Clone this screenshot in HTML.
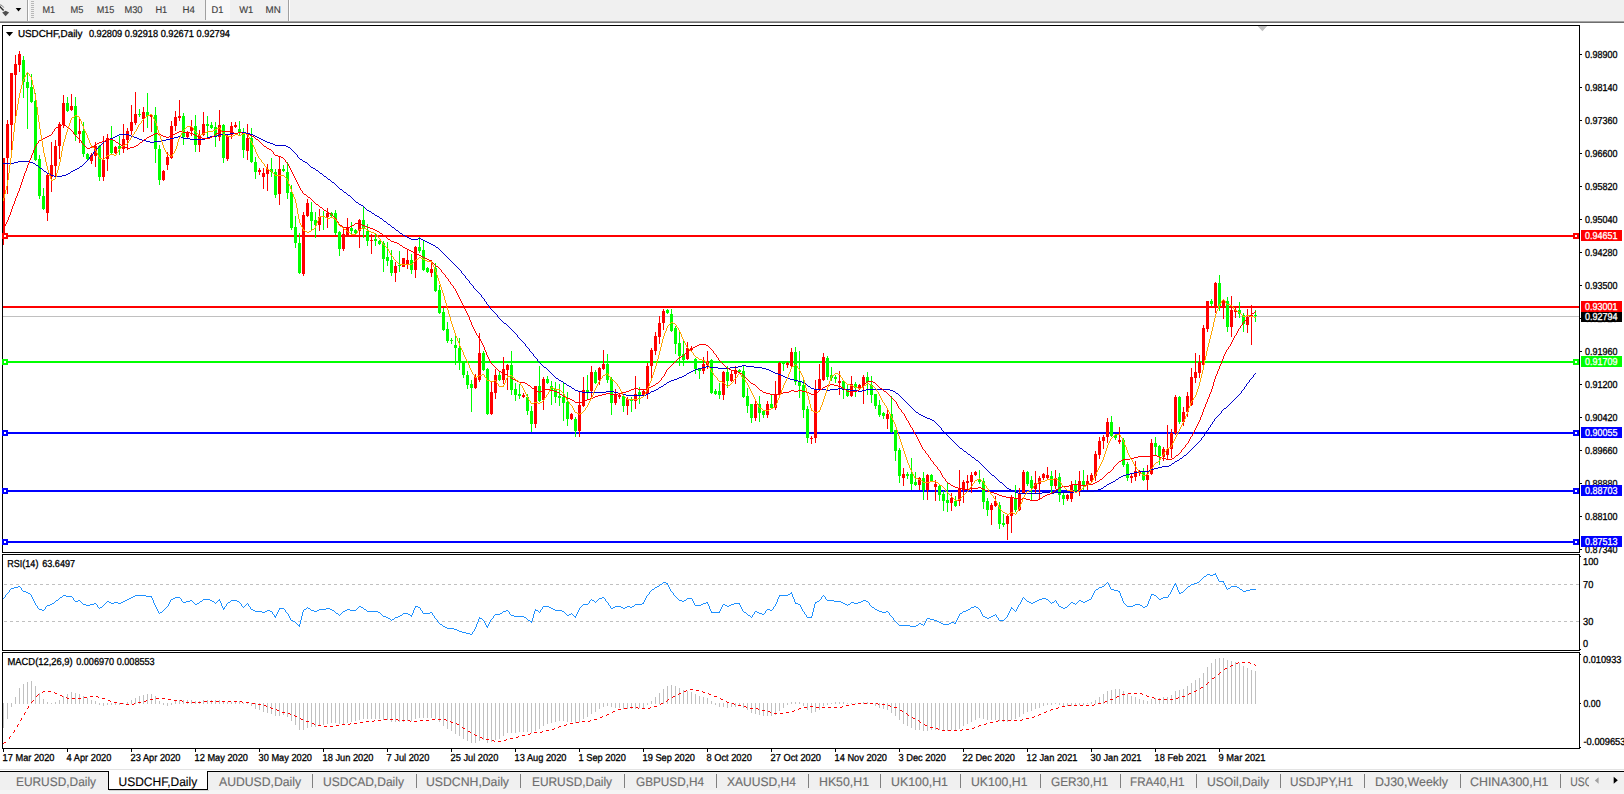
<!DOCTYPE html>
<html lang="en"><head><meta charset="utf-8"><title>USDCHF,Daily</title>
<style>
html,body{margin:0;padding:0;background:#fff;overflow:hidden}
svg{display:block;font-family:"Liberation Sans", Arial, sans-serif}
text{white-space:pre;text-rendering:geometricPrecision}
</style></head><body>
<svg width="1624" height="794" viewBox="0 0 1624 794">
<rect x="0" y="0" width="1624" height="794" fill="#ffffff"/>
<g shape-rendering="crispEdges">
<rect x="0" y="0" width="1624" height="21" fill="#f0f0f0"/>
<rect x="0" y="21" width="1624" height="1" fill="#a3a3a3"/>
<rect x="0" y="22" width="1624" height="1" fill="#6e6e6e"/>
<rect x="0" y="23" width="1624" height="1" fill="#ffffff"/>
<rect x="27" y="0" width="1" height="21" fill="#a0a0a0"/>
<rect x="28" y="0" width="1" height="21" fill="#ffffff"/>
<rect x="31" y="1" width="3" height="1" fill="#b8b8b8"/>
<rect x="31" y="3" width="3" height="1" fill="#b8b8b8"/>
<rect x="31" y="5" width="3" height="1" fill="#b8b8b8"/>
<rect x="31" y="7" width="3" height="1" fill="#b8b8b8"/>
<rect x="31" y="9" width="3" height="1" fill="#b8b8b8"/>
<rect x="31" y="11" width="3" height="1" fill="#b8b8b8"/>
<rect x="31" y="13" width="3" height="1" fill="#b8b8b8"/>
<rect x="31" y="15" width="3" height="1" fill="#b8b8b8"/>
<rect x="31" y="17" width="3" height="1" fill="#b8b8b8"/>
<rect x="205" y="0" width="1" height="20" fill="#a0a0a0"/>
<rect x="206" y="0" width="24" height="20" fill="#f8f8f8"/>
<rect x="288" y="0" width="1" height="21" fill="#a0a0a0"/>
<rect x="289" y="0" width="1" height="21" fill="#ffffff"/>
</g>
<path d="M-0.5 6.2 L3.6 10.6" stroke="#303030" stroke-width="1.5" fill="none"/>
<path d="M-0.5 4.6 Q2.5 5 3.8 7.6" stroke="#808080" stroke-width="1" fill="none"/>
<path d="M2.2 12.4 L5.6 10.8 L9.1 12.4 L5.6 16.3 Z" fill="#505050"/>
<path d="M15.7 8 h5.6 l-2.8 3.4 z" fill="#000"/>
<text x="42.5" y="12.75" font-size="9.8" fill="#404040" stroke="#404040" stroke-width="0.15" textLength="12.7" lengthAdjust="spacingAndGlyphs">M1</text>
<text x="70.6" y="12.75" font-size="9.8" fill="#404040" stroke="#404040" stroke-width="0.15" textLength="12.9" lengthAdjust="spacingAndGlyphs">M5</text>
<text x="96.7" y="12.75" font-size="9.8" fill="#404040" stroke="#404040" stroke-width="0.15" textLength="17.6" lengthAdjust="spacingAndGlyphs">M15</text>
<text x="124.4" y="12.75" font-size="9.8" fill="#404040" stroke="#404040" stroke-width="0.15" textLength="18.1" lengthAdjust="spacingAndGlyphs">M30</text>
<text x="155.4" y="12.75" font-size="9.8" fill="#404040" stroke="#404040" stroke-width="0.15" textLength="11.8" lengthAdjust="spacingAndGlyphs">H1</text>
<text x="182.6" y="12.75" font-size="9.8" fill="#404040" stroke="#404040" stroke-width="0.15" textLength="12.4" lengthAdjust="spacingAndGlyphs">H4</text>
<text x="211.5" y="12.75" font-size="9.8" fill="#404040" stroke="#404040" stroke-width="0.15" textLength="11.9" lengthAdjust="spacingAndGlyphs">D1</text>
<text x="239.2" y="12.75" font-size="9.8" fill="#404040" stroke="#404040" stroke-width="0.15" textLength="14.1" lengthAdjust="spacingAndGlyphs">W1</text>
<text x="265.5" y="12.75" font-size="9.8" fill="#404040" stroke="#404040" stroke-width="0.15" textLength="15.2" lengthAdjust="spacingAndGlyphs">MN</text>
<g shape-rendering="crispEdges">
<rect x="1580" y="54" width="2" height="1" fill="#000"/>
<rect x="1580" y="87" width="2" height="1" fill="#000"/>
<rect x="1580" y="120" width="2" height="1" fill="#000"/>
<rect x="1580" y="153" width="2" height="1" fill="#000"/>
<rect x="1580" y="186" width="2" height="1" fill="#000"/>
<rect x="1580" y="219" width="2" height="1" fill="#000"/>
<rect x="1580" y="252" width="2" height="1" fill="#000"/>
<rect x="1580" y="285" width="2" height="1" fill="#000"/>
<rect x="1580" y="318" width="2" height="1" fill="#000"/>
<rect x="1580" y="351" width="2" height="1" fill="#000"/>
<rect x="1580" y="384" width="2" height="1" fill="#000"/>
<rect x="1580" y="417" width="2" height="1" fill="#000"/>
<rect x="1580" y="450" width="2" height="1" fill="#000"/>
<rect x="1580" y="483" width="2" height="1" fill="#000"/>
<rect x="1580" y="516" width="2" height="1" fill="#000"/>
<rect x="1580" y="549" width="2" height="1" fill="#000"/>
<rect x="3" y="316" width="1576" height="1" fill="#c0c0c0"/>
<rect x="3" y="235" width="1576" height="2" fill="#ff0000"/>
<rect x="3" y="306" width="1576" height="2" fill="#ff0000"/>
<rect x="3" y="361" width="1576" height="2" fill="#00ff00"/>
<rect x="3" y="432" width="1576" height="2" fill="#0000ff"/>
<rect x="3" y="490" width="1576" height="2" fill="#0000ff"/>
<rect x="3" y="541" width="1576" height="2" fill="#0000ff"/>
</g>
<text x="1585" y="57.8" font-size="10.1" fill="#000" stroke="#000" stroke-width="0.3" textLength="32.5" lengthAdjust="spacingAndGlyphs">0.98900</text>
<text x="1585" y="90.8" font-size="10.1" fill="#000" stroke="#000" stroke-width="0.3" textLength="32.5" lengthAdjust="spacingAndGlyphs">0.98140</text>
<text x="1585" y="123.8" font-size="10.1" fill="#000" stroke="#000" stroke-width="0.3" textLength="32.5" lengthAdjust="spacingAndGlyphs">0.97360</text>
<text x="1585" y="156.8" font-size="10.1" fill="#000" stroke="#000" stroke-width="0.3" textLength="32.5" lengthAdjust="spacingAndGlyphs">0.96600</text>
<text x="1585" y="189.8" font-size="10.1" fill="#000" stroke="#000" stroke-width="0.3" textLength="32.5" lengthAdjust="spacingAndGlyphs">0.95820</text>
<text x="1585" y="222.8" font-size="10.1" fill="#000" stroke="#000" stroke-width="0.3" textLength="32.5" lengthAdjust="spacingAndGlyphs">0.95040</text>
<text x="1585" y="255.8" font-size="10.1" fill="#000" stroke="#000" stroke-width="0.3" textLength="32.5" lengthAdjust="spacingAndGlyphs">0.94280</text>
<text x="1585" y="288.8" font-size="10.1" fill="#000" stroke="#000" stroke-width="0.3" textLength="32.5" lengthAdjust="spacingAndGlyphs">0.93500</text>
<text x="1585" y="321.8" font-size="10.1" fill="#000" stroke="#000" stroke-width="0.3" textLength="32.5" lengthAdjust="spacingAndGlyphs">0.92720</text>
<text x="1585" y="354.8" font-size="10.1" fill="#000" stroke="#000" stroke-width="0.3" textLength="32.5" lengthAdjust="spacingAndGlyphs">0.91960</text>
<text x="1585" y="387.8" font-size="10.1" fill="#000" stroke="#000" stroke-width="0.3" textLength="32.5" lengthAdjust="spacingAndGlyphs">0.91200</text>
<text x="1585" y="420.8" font-size="10.1" fill="#000" stroke="#000" stroke-width="0.3" textLength="32.5" lengthAdjust="spacingAndGlyphs">0.90420</text>
<text x="1585" y="453.8" font-size="10.1" fill="#000" stroke="#000" stroke-width="0.3" textLength="32.5" lengthAdjust="spacingAndGlyphs">0.89660</text>
<text x="1585" y="486.8" font-size="10.1" fill="#000" stroke="#000" stroke-width="0.3" textLength="32.5" lengthAdjust="spacingAndGlyphs">0.88880</text>
<text x="1585" y="519.8" font-size="10.1" fill="#000" stroke="#000" stroke-width="0.3" textLength="32.5" lengthAdjust="spacingAndGlyphs">0.88100</text>
<text x="1585" y="552.8" font-size="10.1" fill="#000" stroke="#000" stroke-width="0.3" textLength="32.5" lengthAdjust="spacingAndGlyphs">0.87340</text>
<g shape-rendering="crispEdges">
<path fill="#00ff00" d="M23 56h1v42h-1zM22 60h3v22h-3zM27 72h1v57h-1zM26 82h3v6h-3zM31 74h1v29h-1zM30 87h3v15h-3zM35 93h1v68h-1zM34 101h3v59h-3zM39 155h1v44h-1zM38 159h3v37h-3zM43 188h1v22h-1zM42 196h3v13h-3zM67 97h1v15h-1zM66 103h3v8h-3zM75 97h1v44h-1zM74 106h3v29h-3zM83 122h1v35h-1zM82 131h3v23h-3zM87 153h1v7h-1zM86 154h3v5h-3zM99 145h1v36h-1zM98 146h3v31h-3zM111 126h1v29h-1zM110 139h3v14h-3zM119 136h1v19h-1zM118 146h3v3h-3zM139 109h1v8h-1zM138 114h3v1h-3zM147 93h1v35h-1zM146 112h3v4h-3zM155 107h1v56h-1zM154 115h3v34h-3zM159 145h1v40h-1zM158 149h3v31h-3zM183 113h1v32h-1zM182 116h3v21h-3zM195 115h1v37h-1zM194 126h3v19h-3zM207 116h1v22h-1zM206 124h3v2h-3zM211 122h1v7h-1zM210 125h3v3h-3zM215 122h1v25h-1zM214 127h3v9h-3zM223 124h1v39h-1zM222 125h3v33h-3zM239 121h1v14h-1zM238 129h3v3h-3zM243 128h1v30h-1zM242 133h3v17h-3zM251 128h1v35h-1zM250 138h3v24h-3zM255 157h1v22h-1zM254 162h3v10h-3zM271 158h1v19h-1zM270 169h3v3h-3zM275 169h1v29h-1zM274 172h3v23h-3zM283 165h1v7h-1zM282 169h3v2h-3zM287 162h1v37h-1zM286 172h3v21h-3zM291 185h1v45h-1zM290 192h3v36h-3zM295 216h1v32h-1zM294 227h3v16h-3zM299 233h1v41h-1zM298 243h3v30h-3zM311 202h1v29h-1zM310 212h3v9h-3zM315 212h1v26h-1zM314 220h3v5h-3zM323 211h1v19h-1zM322 216h3v1h-3zM331 212h1v5h-1zM330 213h3v3h-3zM335 210h1v25h-1zM334 213h3v20h-3zM339 231h1v25h-1zM338 232h3v17h-3zM351 222h1v12h-1zM350 228h3v3h-3zM355 229h1v5h-1zM354 230h3v3h-3zM363 207h1v31h-1zM362 220h3v8h-3zM367 224h1v22h-1zM366 231h3v10h-3zM375 234h1v12h-1zM374 239h3v2h-3zM379 240h1v5h-1zM378 241h3v3h-3zM383 241h1v31h-1zM382 243h3v16h-3zM387 242h1v24h-1zM386 257h3v4h-3zM391 250h1v26h-1zM390 260h3v13h-3zM399 251h1v21h-1zM398 265h3v1h-3zM411 254h1v20h-1zM410 260h3v10h-3zM419 237h1v16h-1zM418 247h3v4h-3zM423 240h1v31h-1zM422 250h3v20h-3zM427 267h1v6h-1zM426 268h3v4h-3zM435 263h1v29h-1zM434 268h3v23h-3zM439 285h1v29h-1zM438 290h3v23h-3zM443 308h1v23h-1zM442 312h3v18h-3zM447 322h1v21h-1zM446 329h3v12h-3zM451 338h1v6h-1zM450 340h3v1h-3zM455 336h1v29h-1zM454 345h3v3h-3zM459 338h1v32h-1zM458 348h3v15h-3zM463 361h1v17h-1zM462 363h3v12h-3zM467 371h1v18h-1zM466 375h3v10h-3zM471 380h1v32h-1zM470 384h3v4h-3zM483 351h1v20h-1zM482 353h3v17h-3zM487 368h1v47h-1zM486 369h3v45h-3zM499 371h1v10h-1zM498 375h3v5h-3zM511 351h1v44h-1zM510 365h3v25h-3zM515 383h1v18h-1zM514 389h3v6h-3zM519 384h1v15h-1zM518 394h3v2h-3zM527 394h1v21h-1zM526 397h3v14h-3zM531 406h1v26h-1zM530 411h3v13h-3zM539 366h1v36h-1zM538 386h3v15h-3zM547 376h1v8h-1zM546 379h3v4h-3zM551 381h1v24h-1zM550 386h3v4h-3zM555 382h1v21h-1zM554 389h3v8h-3zM559 384h1v22h-1zM558 396h3v2h-3zM563 383h1v38h-1zM562 397h3v6h-3zM567 392h1v34h-1zM566 402h3v17h-3zM575 417h1v20h-1zM574 419h3v12h-3zM587 375h1v25h-1zM586 390h3v2h-3zM595 370h1v14h-1zM594 372h3v11h-3zM607 354h1v29h-1zM606 364h3v16h-3zM611 377h1v38h-1zM610 379h3v24h-3zM623 395h1v17h-1zM622 396h3v10h-3zM631 397h1v15h-1zM630 400h3v1h-3zM639 387h1v17h-1zM638 392h3v3h-3zM667 309h1v5h-1zM666 310h3v3h-3zM671 309h1v23h-1zM670 314h3v17h-3zM675 326h1v28h-1zM674 328h3v16h-3zM679 332h1v34h-1zM678 343h3v13h-3zM683 341h1v25h-1zM682 354h3v6h-3zM695 358h1v16h-1zM694 359h3v10h-3zM699 368h1v11h-1zM698 369h3v2h-3zM711 359h1v35h-1zM710 360h3v33h-3zM715 389h1v6h-1zM714 391h3v3h-3zM719 383h1v16h-1zM718 391h3v4h-3zM727 366h1v22h-1zM726 372h3v9h-3zM739 369h1v4h-1zM738 370h3v2h-3zM743 365h1v33h-1zM742 371h3v26h-3zM747 388h1v25h-1zM746 396h3v10h-3zM751 404h1v19h-1zM750 404h3v14h-3zM759 396h1v26h-1zM758 404h3v9h-3zM763 410h1v8h-1zM762 411h3v4h-3zM771 395h1v14h-1zM770 404h3v4h-3zM783 361h1v10h-1zM782 362h3v2h-3zM795 347h1v38h-1zM794 352h3v30h-3zM799 351h1v47h-1zM798 381h3v5h-3zM803 380h1v38h-1zM802 385h3v25h-3zM807 406h1v37h-1zM806 409h3v29h-3zM827 356h1v24h-1zM826 358h3v19h-3zM831 367h1v14h-1zM830 375h3v3h-3zM835 375h1v8h-1zM834 377h3v2h-3zM843 380h1v19h-1zM842 381h3v8h-3zM847 385h1v12h-1zM846 389h3v7h-3zM855 382h1v15h-1zM854 384h3v4h-3zM867 372h1v23h-1zM866 377h3v5h-3zM871 376h1v27h-1zM870 385h3v10h-3zM875 394h1v15h-1zM874 394h3v12h-3zM879 400h1v17h-1zM878 405h3v10h-3zM883 412h1v7h-1zM882 413h3v3h-3zM891 396h1v37h-1zM890 414h3v18h-3zM895 430h1v31h-1zM894 430h3v21h-3zM899 448h1v35h-1zM898 450h3v26h-3zM907 472h1v7h-1zM906 474h3v2h-3zM911 458h1v32h-1zM910 474h3v10h-3zM915 472h1v14h-1zM914 482h3v3h-3zM923 472h1v28h-1zM922 478h3v12h-3zM931 474h1v8h-1zM930 475h3v6h-3zM939 484h1v17h-1zM938 486h3v9h-3zM943 491h1v20h-1zM942 494h3v7h-3zM947 483h1v29h-1zM946 500h3v3h-3zM955 496h1v11h-1zM954 501h3v5h-3zM979 470h1v14h-1zM978 480h3v2h-3zM983 478h1v31h-1zM982 481h3v21h-3zM987 498h1v18h-1zM986 501h3v9h-3zM999 502h1v27h-1zM998 505h3v19h-3zM1003 514h1v13h-1zM1002 523h3v2h-3zM1015 485h1v27h-1zM1014 498h3v12h-3zM1027 471h1v15h-1zM1026 472h3v12h-3zM1031 476h1v24h-1zM1030 480h3v8h-3zM1051 471h1v22h-1zM1050 476h3v10h-3zM1059 473h1v29h-1zM1058 477h3v18h-3zM1063 493h1v12h-1zM1062 495h3v4h-3zM1075 480h1v12h-1zM1074 485h3v6h-3zM1083 470h1v20h-1zM1082 481h3v5h-3zM1111 416h1v21h-1zM1110 422h3v14h-3zM1115 434h1v6h-1zM1114 435h3v3h-3zM1123 438h1v29h-1zM1122 440h3v25h-3zM1127 462h1v19h-1zM1126 464h3v14h-3zM1143 468h1v13h-1zM1142 471h3v9h-3zM1155 437h1v18h-1zM1154 443h3v4h-3zM1159 445h1v20h-1zM1158 446h3v10h-3zM1179 396h1v28h-1zM1178 397h3v25h-3zM1211 299h1v7h-1zM1210 301h3v3h-3zM1219 275h1v36h-1zM1218 283h3v23h-3zM1227 297h1v35h-1zM1226 301h3v26h-3zM1239 302h1v16h-1zM1238 310h3v4h-3zM1243 313h1v19h-1zM1242 315h3v9h-3zM1255 310h1v12h-1zM1254 315h3v1h-3z"/>
<path fill="#ff0000" d="M3 158h1v87h-1zM2 158h3v75h-3zM7 120h1v74h-1zM6 124h3v34h-3zM11 73h1v81h-1zM10 73h3v52h-3zM15 55h1v62h-1zM14 64h3v11h-3zM19 51h1v21h-1zM18 54h3v11h-3zM47 174h1v47h-1zM46 175h3v38h-3zM51 142h1v50h-1zM50 165h3v12h-3zM55 140h1v37h-1zM54 146h3v20h-3zM59 122h1v37h-1zM58 124h3v22h-3zM63 95h1v33h-1zM62 103h3v22h-3zM71 94h1v17h-1zM70 106h3v4h-3zM79 118h1v25h-1zM78 131h3v3h-3zM91 153h1v11h-1zM90 155h3v6h-3zM95 142h1v25h-1zM94 146h3v10h-3zM103 136h1v45h-1zM102 160h3v17h-3zM107 134h1v37h-1zM106 138h3v21h-3zM115 146h1v8h-1zM114 147h3v6h-3zM123 124h1v29h-1zM122 139h3v10h-3zM127 128h1v22h-1zM126 131h3v9h-3zM131 105h1v30h-1zM130 122h3v9h-3zM135 92h1v33h-1zM134 114h3v9h-3zM143 107h1v25h-1zM142 112h3v7h-3zM151 114h1v18h-1zM150 115h3v2h-3zM163 170h1v11h-1zM162 171h3v9h-3zM167 152h1v18h-1zM166 157h3v8h-3zM171 121h1v38h-1zM170 126h3v32h-3zM175 111h1v20h-1zM174 117h3v9h-3zM179 100h1v21h-1zM178 116h3v2h-3zM187 131h1v8h-1zM186 133h3v4h-3zM191 120h1v16h-1zM190 127h3v4h-3zM199 130h1v22h-1zM198 135h3v10h-3zM203 112h1v24h-1zM202 124h3v11h-3zM219 110h1v31h-1zM218 125h3v12h-3zM227 135h1v26h-1zM226 136h3v23h-3zM231 122h1v17h-1zM230 126h3v9h-3zM235 122h1v6h-1zM234 125h3v2h-3zM247 124h1v36h-1zM246 138h3v13h-3zM259 168h1v7h-1zM258 170h3v2h-3zM263 168h1v21h-1zM262 173h3v4h-3zM267 164h1v27h-1zM266 169h3v5h-3zM279 157h1v48h-1zM278 169h3v25h-3zM303 212h1v64h-1zM302 215h3v59h-3zM307 199h1v18h-1zM306 203h3v13h-3zM319 209h1v22h-1zM318 217h3v8h-3zM327 208h1v20h-1zM326 213h3v4h-3zM343 228h1v23h-1zM342 234h3v15h-3zM347 218h1v18h-1zM346 227h3v8h-3zM359 219h1v29h-1zM358 220h3v11h-3zM371 234h1v20h-1zM370 240h3v1h-3zM395 262h1v20h-1zM394 266h3v7h-3zM403 258h1v9h-1zM402 258h3v9h-3zM407 249h1v20h-1zM406 260h3v5h-3zM415 246h1v32h-1zM414 247h3v23h-3zM431 260h1v17h-1zM430 269h3v4h-3zM475 374h1v15h-1zM474 377h3v11h-3zM479 333h1v49h-1zM478 353h3v27h-3zM491 381h1v34h-1zM490 392h3v22h-3zM495 369h1v30h-1zM494 375h3v18h-3zM503 357h1v27h-1zM502 369h3v11h-3zM507 364h1v26h-1zM506 365h3v5h-3zM523 393h1v5h-1zM522 395h3v2h-3zM535 386h1v42h-1zM534 386h3v38h-3zM543 377h1v33h-1zM542 379h3v21h-3zM571 413h1v7h-1zM570 414h3v5h-3zM579 392h1v45h-1zM578 405h3v26h-3zM583 377h1v30h-1zM582 390h3v16h-3zM591 366h1v32h-1zM590 372h3v19h-3zM599 367h1v18h-1zM598 368h3v12h-3zM603 350h1v20h-1zM602 364h3v5h-3zM615 389h1v16h-1zM614 395h3v8h-3zM619 394h1v5h-1zM618 395h3v2h-3zM627 397h1v18h-1zM626 399h3v7h-3zM635 376h1v33h-1zM634 394h3v7h-3zM643 389h1v8h-1zM642 391h3v4h-3zM647 363h1v36h-1zM646 366h3v28h-3zM651 348h1v30h-1zM650 350h3v16h-3zM655 332h1v23h-1zM654 336h3v15h-3zM659 316h1v28h-1zM658 323h3v14h-3zM663 309h1v21h-1zM662 311h3v12h-3zM687 342h1v18h-1zM686 348h3v11h-3zM691 346h1v6h-1zM690 348h3v2h-3zM703 357h1v17h-1zM702 364h3v7h-3zM707 351h1v18h-1zM706 361h3v4h-3zM723 371h1v29h-1zM722 372h3v23h-3zM731 370h1v12h-1zM730 374h3v7h-3zM735 366h1v18h-1zM734 370h3v4h-3zM755 401h1v20h-1zM754 404h3v14h-3zM767 401h1v17h-1zM766 404h3v11h-3zM775 381h1v29h-1zM774 394h3v14h-3zM779 362h1v34h-1zM778 363h3v32h-3zM787 362h1v6h-1zM786 363h3v2h-3zM791 348h1v19h-1zM790 352h3v14h-3zM811 436h1v8h-1zM810 438h3v1h-3zM815 380h1v63h-1zM814 390h3v48h-3zM819 364h1v27h-1zM818 379h3v10h-3zM823 353h1v28h-1zM822 357h3v23h-3zM839 371h1v24h-1zM838 381h3v2h-3zM851 376h1v21h-1zM850 384h3v12h-3zM859 384h1v5h-1zM858 385h3v3h-3zM863 375h1v29h-1zM862 377h3v9h-3zM887 408h1v21h-1zM886 414h3v5h-3zM903 468h1v18h-1zM902 474h3v4h-3zM919 477h1v13h-1zM918 478h3v7h-3zM927 474h1v26h-1zM926 475h3v15h-3zM935 480h1v21h-1zM934 484h3v3h-3zM951 493h1v18h-1zM950 498h3v5h-3zM959 470h1v36h-1zM958 489h3v12h-3zM963 480h1v23h-1zM962 482h3v8h-3zM967 475h1v15h-1zM966 481h3v2h-3zM971 472h1v21h-1zM970 475h3v7h-3zM975 471h1v5h-1zM974 472h3v3h-3zM991 503h1v22h-1zM990 505h3v5h-3zM995 496h1v11h-1zM994 501h3v5h-3zM1007 515h1v25h-1zM1006 516h3v8h-3zM1011 495h1v38h-1zM1010 497h3v19h-3zM1019 488h1v23h-1zM1018 493h3v17h-3zM1023 470h1v24h-1zM1022 472h3v21h-3zM1035 471h1v22h-1zM1034 483h3v6h-3zM1039 476h1v23h-1zM1038 478h3v6h-3zM1043 473h1v7h-1zM1042 474h3v4h-3zM1047 467h1v13h-1zM1046 475h3v3h-3zM1055 470h1v19h-1zM1054 478h3v8h-3zM1067 494h1v7h-1zM1066 495h3v4h-3zM1071 481h1v21h-1zM1070 485h3v14h-3zM1079 471h1v25h-1zM1078 481h3v10h-3zM1087 475h1v15h-1zM1086 481h3v4h-3zM1091 473h1v9h-1zM1090 475h3v6h-3zM1095 451h1v30h-1zM1094 454h3v22h-3zM1099 437h1v22h-1zM1098 441h3v14h-3zM1103 435h1v14h-1zM1102 437h3v4h-3zM1107 418h1v25h-1zM1106 422h3v15h-3zM1119 427h1v17h-1zM1118 440h3v2h-3zM1131 474h1v9h-1zM1130 476h3v2h-3zM1135 461h1v20h-1zM1134 471h3v6h-3zM1139 470h1v6h-1zM1138 471h3v2h-3zM1147 465h1v25h-1zM1146 475h3v5h-3zM1151 439h1v36h-1zM1150 443h3v31h-3zM1163 447h1v14h-1zM1162 449h3v8h-3zM1167 425h1v34h-1zM1166 449h3v6h-3zM1171 429h1v29h-1zM1170 433h3v16h-3zM1175 395h1v40h-1zM1174 397h3v36h-3zM1183 407h1v19h-1zM1182 412h3v10h-3zM1187 392h1v25h-1zM1186 396h3v16h-3zM1191 368h1v38h-1zM1190 377h3v28h-3zM1195 353h1v30h-1zM1194 372h3v6h-3zM1199 355h1v23h-1zM1198 362h3v11h-3zM1203 325h1v41h-1zM1202 328h3v37h-3zM1207 301h1v31h-1zM1206 301h3v28h-3zM1215 282h1v31h-1zM1214 283h3v24h-3zM1223 299h1v20h-1zM1222 301h3v6h-3zM1231 296h1v41h-1zM1230 310h3v17h-3zM1235 308h1v10h-1zM1234 310h3v2h-3zM1247 309h1v24h-1zM1246 317h3v8h-3zM1251 305h1v40h-1zM1250 315h3v2h-3z"/>
</g>
<g shape-rendering="crispEdges">
<rect x="2" y="25" width="1578" height="1" fill="#000"/>
<rect x="2" y="25" width="1" height="528" fill="#000"/>
<rect x="2" y="552" width="1578" height="1" fill="#000"/>
<rect x="2" y="554" width="1578" height="1" fill="#000"/>
<rect x="2" y="554" width="1" height="97" fill="#000"/>
<rect x="2" y="650" width="1578" height="1" fill="#000"/>
<rect x="2" y="652" width="1578" height="1" fill="#000"/>
<rect x="2" y="652" width="1" height="97" fill="#000"/>
<rect x="2" y="748" width="1578" height="1" fill="#000"/>
<rect x="1579" y="25" width="1" height="528" fill="#000"/>
<rect x="1579" y="554" width="1" height="97" fill="#000"/>
<rect x="1579" y="652" width="1" height="97" fill="#000"/>
</g>
<g shape-rendering="crispEdges">
<rect x="2" y="233" width="6" height="6" fill="#ff0000"/>
<rect x="4" y="235" width="2" height="2" fill="#fff"/>
<rect x="1573" y="233" width="6" height="6" fill="#ff0000"/>
<rect x="1575" y="235" width="2" height="2" fill="#fff"/>
<rect x="2" y="359" width="6" height="6" fill="#00ff00"/>
<rect x="4" y="361" width="2" height="2" fill="#fff"/>
<rect x="1573" y="359" width="6" height="6" fill="#00ff00"/>
<rect x="1575" y="361" width="2" height="2" fill="#fff"/>
<rect x="2" y="430" width="6" height="6" fill="#0000ff"/>
<rect x="4" y="432" width="2" height="2" fill="#fff"/>
<rect x="1573" y="430" width="6" height="6" fill="#0000ff"/>
<rect x="1575" y="432" width="2" height="2" fill="#fff"/>
<rect x="2" y="488" width="6" height="6" fill="#0000ff"/>
<rect x="4" y="490" width="2" height="2" fill="#fff"/>
<rect x="1573" y="488" width="6" height="6" fill="#0000ff"/>
<rect x="1575" y="490" width="2" height="2" fill="#fff"/>
<rect x="2" y="539" width="6" height="6" fill="#0000ff"/>
<rect x="4" y="541" width="2" height="2" fill="#fff"/>
<rect x="1573" y="539" width="6" height="6" fill="#0000ff"/>
<rect x="1575" y="541" width="2" height="2" fill="#fff"/>
<rect x="1581" y="311" width="41" height="11" fill="#000"/>
<rect x="1581" y="230" width="41" height="11" fill="#ff0000"/>
<rect x="1581" y="301" width="41" height="11" fill="#ff0000"/>
<rect x="1581" y="356" width="41" height="11" fill="#00ff00"/>
<rect x="1581" y="427" width="41" height="11" fill="#0000ff"/>
<rect x="1581" y="485" width="41" height="11" fill="#0000ff"/>
<rect x="1581" y="536" width="41" height="11" fill="#0000ff"/>
</g>
<text x="1585" y="320.2" font-size="10.1" fill="#fff" stroke="#fff" stroke-width="0.3" textLength="32.5" lengthAdjust="spacingAndGlyphs">0.92794</text>
<text x="1585" y="239.2" font-size="10.1" fill="#fff" stroke="#fff" stroke-width="0.3" textLength="32.5" lengthAdjust="spacingAndGlyphs">0.94651</text>
<text x="1585" y="310.2" font-size="10.1" fill="#fff" stroke="#fff" stroke-width="0.3" textLength="32.5" lengthAdjust="spacingAndGlyphs">0.93001</text>
<text x="1585" y="365.2" font-size="10.1" fill="#fff" stroke="#fff" stroke-width="0.3" textLength="32.5" lengthAdjust="spacingAndGlyphs">0.91709</text>
<text x="1585" y="436.2" font-size="10.1" fill="#fff" stroke="#fff" stroke-width="0.3" textLength="32.5" lengthAdjust="spacingAndGlyphs">0.90055</text>
<text x="1585" y="494.2" font-size="10.1" fill="#fff" stroke="#fff" stroke-width="0.3" textLength="32.5" lengthAdjust="spacingAndGlyphs">0.88703</text>
<text x="1585" y="545.2" font-size="10.1" fill="#fff" stroke="#fff" stroke-width="0.3" textLength="32.5" lengthAdjust="spacingAndGlyphs">0.87513</text>
<path fill="#0000cd" shape-rendering="crispEdges" d="M3 163h11v1h-11zM14 162h4v1h-4zM18 161h12v1h-12zM30 162h3v1h-3zM33 163h2v1h-2zM35 164h1v1h-1zM36 165h2v1h-2zM38 166h1v1h-1zM39 167h1v1h-1zM40 168h2v1h-2zM42 169h1v1h-1zM43 170h1v1h-1zM44 171h2v1h-2zM46 172h1v1h-1zM47 173h2v1h-2zM49 174h2v1h-2zM51 175h3v1h-3zM54 176h8v1h-8zM62 175h4v1h-4zM66 174h2v1h-2zM68 173h2v1h-2zM70 172h1v1h-1zM71 171h2v1h-2zM73 170h2v1h-2zM75 169h2v1h-2zM77 168h2v1h-2zM79 167h1v1h-1zM80 166h2v1h-2zM82 165h1v1h-1zM83 164h1v1h-1zM84 163h1v1h-1zM85 162h1v1h-1zM86 161h1v1h-1zM87 160h1v1h-1zM88 159h1v1h-1zM89 157h1v2h-1zM90 156h1v1h-1zM91 155h1v1h-1zM92 154h1v1h-1zM93 152h1v2h-1zM94 151h1v1h-1zM95 150h1v1h-1zM96 149h1v1h-1zM97 148h1v1h-1zM98 147h1v1h-1zM99 146h1v1h-1zM100 145h1v1h-1zM101 144h1v1h-1zM102 143h1v1h-1zM103 142h1v1h-1zM104 141h2v1h-2zM106 140h1v1h-1zM107 139h3v1h-3zM110 138h3v1h-3zM113 137h2v1h-2zM115 136h2v1h-2zM117 135h2v1h-2zM119 134h10v1h-10zM129 135h2v1h-2zM131 136h3v1h-3zM134 137h3v1h-3zM137 138h2v1h-2zM139 139h3v1h-3zM142 140h4v1h-4zM146 141h4v1h-4zM150 142h4v1h-4zM154 141h8v1h-8zM162 140h4v1h-4zM166 139h4v1h-4zM170 138h4v1h-4zM174 137h4v1h-4zM178 136h3v1h-3zM181 137h2v1h-2zM183 138h7v1h-7zM190 139h15v1h-15zM205 138h2v1h-2zM207 137h3v1h-3zM210 136h7v1h-7zM217 135h2v1h-2zM219 134h11v1h-11zM230 133h8v1h-8zM238 132h8v1h-8zM246 133h4v1h-4zM250 134h3v1h-3zM253 135h2v1h-2zM255 136h2v1h-2zM257 137h2v1h-2zM259 138h2v1h-2zM261 139h2v1h-2zM263 140h2v1h-2zM265 141h2v1h-2zM267 142h3v1h-3zM270 143h3v1h-3zM273 144h2v1h-2zM275 145h11v1h-11zM286 146h2v1h-2zM288 147h2v1h-2zM290 148h1v1h-1zM291 149h1v1h-1zM292 150h1v1h-1zM293 151h1v1h-1zM294 152h1v1h-1zM295 153h1v1h-1zM296 154h1v1h-1zM297 155h1v2h-1zM298 157h1v1h-1zM299 158h1v1h-1zM300 159h2v1h-2zM302 160h1v1h-1zM303 161h2v1h-2zM305 162h2v1h-2zM307 163h1v1h-1zM308 164h1v1h-1zM309 165h1v1h-1zM310 166h1v1h-1zM311 167h2v1h-2zM313 168h2v1h-2zM315 169h1v1h-1zM316 170h2v1h-2zM318 171h1v1h-1zM319 172h1v1h-1zM320 173h2v1h-2zM322 174h1v1h-1zM323 175h1v1h-1zM324 176h2v1h-2zM326 177h1v1h-1zM327 178h1v1h-1zM328 179h2v1h-2zM330 180h1v1h-1zM331 181h1v1h-1zM332 182h2v1h-2zM334 183h1v1h-1zM335 184h1v1h-1zM336 185h1v1h-1zM337 186h1v1h-1zM338 187h1v1h-1zM339 188h1v1h-1zM340 189h2v1h-2zM342 190h1v1h-1zM343 191h1v1h-1zM344 192h2v1h-2zM346 193h1v1h-1zM347 194h1v1h-1zM348 195h2v1h-2zM350 196h1v1h-1zM351 197h1v1h-1zM352 198h1v1h-1zM353 199h1v1h-1zM354 200h1v1h-1zM355 201h1v1h-1zM356 202h2v1h-2zM358 203h1v1h-1zM359 204h2v1h-2zM361 205h2v1h-2zM363 206h1v1h-1zM364 207h1v1h-1zM365 208h1v1h-1zM366 209h1v1h-1zM367 210h2v1h-2zM369 211h2v1h-2zM371 212h1v1h-1zM372 213h2v1h-2zM374 214h1v1h-1zM375 215h2v1h-2zM377 216h2v1h-2zM379 217h1v1h-1zM380 218h2v1h-2zM382 219h1v1h-1zM383 220h1v1h-1zM384 221h2v1h-2zM386 222h1v1h-1zM387 223h1v1h-1zM388 224h2v1h-2zM390 225h1v1h-1zM391 226h1v1h-1zM392 227h2v1h-2zM394 228h1v1h-1zM395 229h1v1h-1zM396 230h2v1h-2zM398 231h1v1h-1zM399 232h1v1h-1zM400 233h2v1h-2zM402 234h1v1h-1zM403 235h2v1h-2zM405 236h2v1h-2zM407 237h2v1h-2zM409 238h2v1h-2zM411 239h7v1h-7zM418 238h3v1h-3zM421 239h2v1h-2zM423 240h2v1h-2zM425 241h2v1h-2zM427 242h2v1h-2zM429 243h2v1h-2zM431 244h2v1h-2zM433 245h2v1h-2zM435 246h1v1h-1zM436 247h2v1h-2zM438 248h1v1h-1zM439 249h1v1h-1zM440 250h1v1h-1zM441 251h1v1h-1zM442 252h1v1h-1zM443 253h1v1h-1zM444 254h1v1h-1zM445 255h1v1h-1zM446 256h1v1h-1zM447 257h1v1h-1zM448 258h1v1h-1zM449 259h1v1h-1zM450 260h1v1h-1zM451 261h1v1h-1zM452 262h1v1h-1zM453 263h1v1h-1zM454 264h1v1h-1zM455 265h1v1h-1zM456 266h1v1h-1zM457 267h1v1h-1zM458 268h1v1h-1zM459 269h1v1h-1zM460 270h1v1h-1zM461 271h1v2h-1zM462 273h1v1h-1zM463 274h1v1h-1zM464 275h1v1h-1zM465 276h1v2h-1zM466 278h1v1h-1zM467 279h1v1h-1zM468 280h1v1h-1zM469 281h1v2h-1zM470 283h1v1h-1zM471 284h1v1h-1zM472 285h1v1h-1zM473 286h1v2h-1zM474 288h1v1h-1zM475 289h1v1h-1zM476 290h1v1h-1zM477 291h1v1h-1zM478 292h1v1h-1zM479 293h1v1h-1zM480 294h1v1h-1zM481 295h1v2h-1zM482 297h1v1h-1zM483 298h1v1h-1zM484 299h1v2h-1zM485 301h1v1h-1zM486 302h1v2h-1zM487 304h1v1h-1zM488 305h1v1h-1zM489 306h1v2h-1zM490 308h1v1h-1zM491 309h1v1h-1zM492 310h1v1h-1zM493 311h1v1h-1zM494 312h1v1h-1zM495 313h1v1h-1zM496 314h1v1h-1zM497 315h1v2h-1zM498 317h1v1h-1zM499 318h1v1h-1zM500 319h1v1h-1zM501 320h1v1h-1zM502 321h1v1h-1zM503 322h1v1h-1zM504 323h2v1h-2zM506 324h1v1h-1zM507 325h1v1h-1zM508 326h1v1h-1zM509 327h1v1h-1zM510 328h1v1h-1zM511 329h1v1h-1zM512 330h1v1h-1zM513 331h1v1h-1zM514 332h1v1h-1zM515 333h1v1h-1zM516 334h1v1h-1zM517 335h1v2h-1zM518 337h1v1h-1zM519 338h1v1h-1zM520 339h1v1h-1zM521 340h1v1h-1zM522 341h1v1h-1zM523 342h1v1h-1zM524 343h1v1h-1zM525 344h1v2h-1zM526 346h1v1h-1zM527 347h1v1h-1zM528 348h1v1h-1zM529 349h1v2h-1zM530 351h1v1h-1zM531 352h1v1h-1zM532 353h1v1h-1zM533 354h1v2h-1zM534 356h1v1h-1zM535 357h1v1h-1zM536 358h1v1h-1zM537 359h1v2h-1zM538 361h1v1h-1zM539 362h1v1h-1zM540 363h1v1h-1zM541 364h1v1h-1zM542 365h1v1h-1zM543 366h1v1h-1zM544 367h2v1h-2zM546 368h1v1h-1zM547 369h1v1h-1zM548 370h1v1h-1zM549 371h1v1h-1zM550 372h1v1h-1zM551 373h1v1h-1zM552 374h1v1h-1zM553 375h1v1h-1zM554 376h1v1h-1zM555 377h1v1h-1zM556 378h2v1h-2zM558 379h1v1h-1zM559 380h2v1h-2zM561 381h2v1h-2zM563 382h1v1h-1zM564 383h2v1h-2zM566 384h1v1h-1zM567 385h2v1h-2zM569 386h2v1h-2zM571 387h1v1h-1zM572 388h2v1h-2zM574 389h1v1h-1zM575 390h3v1h-3zM578 391h4v1h-4zM582 392h24v1h-24zM606 391h8v1h-8zM614 392h4v1h-4zM618 393h4v1h-4zM622 394h4v1h-4zM626 395h20v1h-20zM646 394h2v1h-2zM648 393h2v1h-2zM650 392h1v1h-1zM651 391h3v1h-3zM654 390h2v1h-2zM656 389h2v1h-2zM658 388h1v1h-1zM659 387h2v1h-2zM661 386h2v1h-2zM663 385h1v1h-1zM664 384h2v1h-2zM666 383h1v1h-1zM667 382h2v1h-2zM669 381h2v1h-2zM671 380h3v1h-3zM674 379h3v1h-3zM677 378h2v1h-2zM679 377h3v1h-3zM682 376h2v1h-2zM684 375h2v1h-2zM686 374h1v1h-1zM687 373h2v1h-2zM689 372h2v1h-2zM691 371h2v1h-2zM693 370h2v1h-2zM695 369h3v1h-3zM698 368h4v1h-4zM702 367h4v1h-4zM706 366h4v1h-4zM710 367h8v1h-8zM718 368h12v1h-12zM730 367h8v1h-8zM738 366h4v1h-4zM742 365h4v1h-4zM746 366h8v1h-8zM754 367h8v1h-8zM762 368h4v1h-4zM766 369h3v1h-3zM769 370h2v1h-2zM771 371h2v1h-2zM773 372h2v1h-2zM775 373h3v1h-3zM778 374h3v1h-3zM781 375h2v1h-2zM783 376h2v1h-2zM785 377h2v1h-2zM787 378h3v1h-3zM790 379h4v1h-4zM794 380h4v1h-4zM798 381h4v1h-4zM802 382h2v1h-2zM804 383h2v1h-2zM806 384h1v1h-1zM807 385h1v1h-1zM808 386h2v1h-2zM810 387h1v1h-1zM811 388h3v1h-3zM814 389h12v1h-12zM826 390h4v1h-4zM830 389h8v1h-8zM838 388h4v1h-4zM842 389h8v1h-8zM850 390h8v1h-8zM858 391h4v1h-4zM862 390h4v1h-4zM866 389h24v1h-24zM890 390h3v1h-3zM893 391h2v1h-2zM895 392h1v1h-1zM896 393h2v1h-2zM898 394h1v1h-1zM899 395h1v1h-1zM900 396h1v1h-1zM901 397h1v1h-1zM902 398h1v1h-1zM903 399h1v1h-1zM904 400h1v1h-1zM905 401h1v1h-1zM906 402h1v1h-1zM907 403h1v1h-1zM908 404h1v1h-1zM909 405h1v1h-1zM910 406h1v1h-1zM911 407h1v1h-1zM912 408h1v1h-1zM913 409h1v1h-1zM914 410h1v1h-1zM915 411h1v1h-1zM916 412h2v1h-2zM918 413h1v1h-1zM919 414h2v1h-2zM921 415h2v1h-2zM923 416h2v1h-2zM925 417h2v1h-2zM927 418h3v1h-3zM930 419h2v1h-2zM932 420h2v1h-2zM934 421h1v1h-1zM935 422h1v1h-1zM936 423h1v1h-1zM937 424h1v1h-1zM938 425h1v1h-1zM939 426h1v1h-1zM940 427h1v1h-1zM941 428h1v2h-1zM942 430h1v1h-1zM943 431h1v1h-1zM944 432h1v1h-1zM945 433h1v1h-1zM946 434h1v1h-1zM947 435h1v1h-1zM948 436h1v1h-1zM949 437h1v1h-1zM950 438h1v1h-1zM951 439h1v1h-1zM952 440h1v1h-1zM953 441h1v1h-1zM954 442h1v1h-1zM955 443h1v1h-1zM956 444h1v1h-1zM957 445h1v1h-1zM958 446h1v1h-1zM959 447h1v1h-1zM960 448h2v1h-2zM962 449h1v1h-1zM963 450h1v1h-1zM964 451h2v1h-2zM966 452h1v1h-1zM967 453h1v1h-1zM968 454h2v1h-2zM970 455h1v1h-1zM971 456h1v1h-1zM972 457h2v1h-2zM974 458h1v1h-1zM975 459h1v1h-1zM976 460h2v1h-2zM978 461h1v1h-1zM979 462h1v1h-1zM980 463h1v1h-1zM981 464h1v1h-1zM982 465h1v1h-1zM983 466h1v1h-1zM984 467h1v1h-1zM985 468h1v1h-1zM986 469h1v1h-1zM987 470h1v1h-1zM988 471h1v1h-1zM989 472h1v1h-1zM990 473h1v1h-1zM991 474h1v1h-1zM992 475h2v1h-2zM994 476h1v1h-1zM995 477h1v1h-1zM996 478h1v1h-1zM997 479h1v1h-1zM998 480h1v1h-1zM999 481h1v1h-1zM1000 482h2v1h-2zM1002 483h1v1h-1zM1003 484h1v1h-1zM1004 485h1v1h-1zM1005 486h1v1h-1zM1006 487h1v1h-1zM1007 488h2v1h-2zM1009 489h2v1h-2zM1011 490h2v1h-2zM1013 491h2v1h-2zM1015 492h3v1h-3zM1018 493h24v1h-24zM1042 492h8v1h-8zM1050 493h4v1h-4zM1054 492h20v1h-20zM1074 491h20v1h-20zM1094 490h4v1h-4zM1098 489h3v1h-3zM1101 488h2v1h-2zM1103 487h1v1h-1zM1104 486h2v1h-2zM1106 485h1v1h-1zM1107 484h2v1h-2zM1109 483h2v1h-2zM1111 482h2v1h-2zM1113 481h2v1h-2zM1115 480h1v1h-1zM1116 479h2v1h-2zM1118 478h1v1h-1zM1119 477h2v1h-2zM1121 476h2v1h-2zM1123 475h3v1h-3zM1126 474h4v1h-4zM1130 473h4v1h-4zM1134 472h4v1h-4zM1138 471h11v1h-11zM1149 470h2v1h-2zM1151 469h3v1h-3zM1154 468h4v1h-4zM1158 467h4v1h-4zM1162 466h7v1h-7zM1169 465h2v1h-2zM1171 464h1v1h-1zM1172 463h2v1h-2zM1174 462h1v1h-1zM1175 461h2v1h-2zM1177 460h2v1h-2zM1179 459h1v1h-1zM1180 458h2v1h-2zM1182 457h1v1h-1zM1183 456h1v1h-1zM1184 455h2v1h-2zM1186 454h1v1h-1zM1187 453h1v1h-1zM1188 452h1v1h-1zM1189 451h1v1h-1zM1190 450h1v1h-1zM1191 449h1v1h-1zM1192 448h1v1h-1zM1193 447h1v1h-1zM1194 446h1v1h-1zM1195 445h1v1h-1zM1196 444h1v1h-1zM1197 443h1v1h-1zM1198 442h1v1h-1zM1199 441h1v1h-1zM1200 440h1v1h-1zM1201 438h1v2h-1zM1202 437h1v1h-1zM1203 436h1v1h-1zM1204 434h1v2h-1zM1205 433h1v1h-1zM1206 431h1v2h-1zM1207 430h1v1h-1zM1208 428h1v2h-1zM1209 427h1v1h-1zM1210 425h1v2h-1zM1211 424h1v1h-1zM1212 422h1v2h-1zM1213 421h1v1h-1zM1214 419h1v2h-1zM1215 418h1v1h-1zM1216 417h1v1h-1zM1217 416h1v1h-1zM1218 415h1v1h-1zM1219 414h1v1h-1zM1220 413h1v1h-1zM1221 411h1v2h-1zM1222 410h1v1h-1zM1223 409h1v1h-1zM1224 408h2v1h-2zM1226 407h1v1h-1zM1227 406h1v1h-1zM1228 405h1v1h-1zM1229 404h1v1h-1zM1230 403h1v1h-1zM1231 402h1v1h-1zM1232 401h1v1h-1zM1233 400h1v1h-1zM1234 399h1v1h-1zM1235 398h1v1h-1zM1236 397h1v1h-1zM1237 396h1v1h-1zM1238 395h1v1h-1zM1239 394h1v1h-1zM1240 393h1v1h-1zM1241 391h1v2h-1zM1242 390h1v1h-1zM1243 389h1v1h-1zM1244 387h1v2h-1zM1245 386h1v1h-1zM1246 384h1v2h-1zM1247 383h1v1h-1zM1248 382h1v1h-1zM1249 380h1v2h-1zM1250 379h1v1h-1zM1251 378h1v1h-1zM1252 377h1v1h-1zM1253 375h1v2h-1zM1254 374h1v1h-1zM1255 373h1v1h-1z"/>
<path fill="#ff0000" shape-rendering="crispEdges" d="M3 228h1v2h-1zM4 226h1v2h-1zM5 224h1v2h-1zM6 222h1v2h-1zM7 220h1v2h-1zM8 217h1v3h-1zM9 215h1v2h-1zM10 212h1v3h-1zM11 209h1v3h-1zM12 206h1v3h-1zM13 204h1v2h-1zM14 201h1v3h-1zM15 198h1v3h-1zM16 196h1v2h-1zM17 193h1v3h-1zM18 191h1v2h-1zM19 188h1v3h-1zM20 185h1v3h-1zM21 182h1v3h-1zM22 179h1v3h-1zM23 176h1v3h-1zM24 173h1v3h-1zM25 171h1v2h-1zM26 168h1v3h-1zM27 165h1v3h-1zM28 163h1v2h-1zM29 160h1v3h-1zM30 158h1v2h-1zM31 155h1v3h-1zM32 153h1v2h-1zM33 150h1v3h-1zM34 148h1v2h-1zM35 146h1v2h-1zM36 144h1v2h-1zM37 143h1v1h-1zM38 141h1v2h-1zM39 140h2v1h-2zM41 139h2v1h-2zM43 138h2v1h-2zM45 137h2v1h-2zM47 136h2v1h-2zM49 135h2v1h-2zM51 134h1v1h-1zM52 132h1v2h-1zM53 131h1v1h-1zM54 129h1v2h-1zM55 128h1v1h-1zM56 127h2v1h-2zM58 126h1v1h-1zM59 125h3v1h-3zM62 124h2v1h-2zM64 125h2v1h-2zM66 126h1v1h-1zM67 127h1v1h-1zM68 128h2v1h-2zM70 129h1v1h-1zM71 130h1v1h-1zM72 131h1v1h-1zM73 132h1v2h-1zM74 134h1v1h-1zM75 135h1v1h-1zM76 136h1v1h-1zM77 137h1v1h-1zM78 138h1v1h-1zM79 139h1v1h-1zM80 140h1v1h-1zM81 141h1v2h-1zM82 143h1v1h-1zM83 144h1v1h-1zM84 145h1v1h-1zM85 146h1v1h-1zM86 147h1v1h-1zM87 148h3v1h-3zM90 147h2v1h-2zM92 146h2v1h-2zM94 145h1v1h-1zM95 144h2v1h-2zM97 143h2v1h-2zM99 142h3v1h-3zM102 141h3v1h-3zM105 140h2v1h-2zM107 139h6v1h-6zM113 140h2v1h-2zM115 141h1v1h-1zM116 142h2v1h-2zM118 143h1v1h-1zM119 144h2v1h-2zM121 145h2v1h-2zM123 146h2v1h-2zM125 147h2v1h-2zM127 148h3v1h-3zM130 147h4v1h-4zM134 146h2v1h-2zM136 145h2v1h-2zM138 144h1v1h-1zM139 143h1v1h-1zM140 142h2v1h-2zM142 141h1v1h-1zM143 140h1v1h-1zM144 139h2v1h-2zM146 138h1v1h-1zM147 137h2v1h-2zM149 136h2v1h-2zM151 135h2v1h-2zM153 134h2v1h-2zM155 133h3v1h-3zM158 134h3v1h-3zM161 135h2v1h-2zM163 136h3v1h-3zM166 137h3v1h-3zM169 136h2v1h-2zM171 135h2v1h-2zM173 134h2v1h-2zM175 133h2v1h-2zM177 132h2v1h-2zM179 131h3v1h-3zM182 132h8v1h-8zM190 133h3v1h-3zM193 134h2v1h-2zM195 135h2v1h-2zM197 136h2v1h-2zM199 137h3v1h-3zM202 138h8v1h-8zM210 137h2v1h-2zM212 136h2v1h-2zM214 135h1v1h-1zM215 134h1v1h-1zM216 133h2v1h-2zM218 132h1v1h-1zM219 131h11v1h-11zM230 132h4v1h-4zM234 133h4v1h-4zM238 132h4v1h-4zM242 133h4v1h-4zM246 134h4v1h-4zM250 135h2v1h-2zM252 136h2v1h-2zM254 137h1v1h-1zM255 138h1v1h-1zM256 139h2v1h-2zM258 140h1v1h-1zM259 141h1v1h-1zM260 142h1v1h-1zM261 143h1v1h-1zM262 144h1v1h-1zM263 145h1v1h-1zM264 146h2v1h-2zM266 147h1v1h-1zM267 148h2v1h-2zM269 149h2v1h-2zM271 150h1v1h-1zM272 151h1v1h-1zM273 152h1v2h-1zM274 154h1v1h-1zM275 155h3v1h-3zM278 156h3v1h-3zM281 157h2v1h-2zM283 158h1v1h-1zM284 159h1v1h-1zM285 160h1v2h-1zM286 162h1v1h-1zM287 163h1v1h-1zM288 164h1v2h-1zM289 166h1v2h-1zM290 168h1v2h-1zM291 170h1v2h-1zM292 172h1v2h-1zM293 174h1v2h-1zM294 176h1v2h-1zM295 178h1v2h-1zM296 180h1v2h-1zM297 182h1v2h-1zM298 184h1v2h-1zM299 186h1v2h-1zM300 188h1v2h-1zM301 190h1v1h-1zM302 191h1v2h-1zM303 193h1v1h-1zM304 194h2v1h-2zM306 195h1v1h-1zM307 196h1v1h-1zM308 197h2v1h-2zM310 198h1v1h-1zM311 199h1v1h-1zM312 200h1v1h-1zM313 201h1v1h-1zM314 202h1v1h-1zM315 203h1v1h-1zM316 204h2v1h-2zM318 205h1v1h-1zM319 206h1v1h-1zM320 207h2v1h-2zM322 208h1v1h-1zM323 209h1v1h-1zM324 210h2v1h-2zM326 211h1v1h-1zM327 212h2v1h-2zM329 213h2v1h-2zM331 214h1v1h-1zM332 215h1v1h-1zM333 216h1v1h-1zM334 217h1v1h-1zM335 218h1v1h-1zM336 219h1v2h-1zM337 221h1v1h-1zM338 222h1v2h-1zM339 224h1v1h-1zM340 225h2v1h-2zM342 226h1v1h-1zM343 227h7v1h-7zM350 226h2v1h-2zM352 225h2v1h-2zM354 224h1v1h-1zM355 223h3v1h-3zM358 224h4v1h-4zM362 225h3v1h-3zM365 226h2v1h-2zM367 227h3v1h-3zM370 228h3v1h-3zM373 229h2v1h-2zM375 230h2v1h-2zM377 231h2v1h-2zM379 232h1v1h-1zM380 233h2v1h-2zM382 234h1v1h-1zM383 235h1v1h-1zM384 236h2v1h-2zM386 237h1v1h-1zM387 238h1v1h-1zM388 239h2v1h-2zM390 240h1v1h-1zM391 241h3v1h-3zM394 242h3v1h-3zM397 243h2v1h-2zM399 244h1v1h-1zM400 245h2v1h-2zM402 246h1v1h-1zM403 247h2v1h-2zM405 248h2v1h-2zM407 249h2v1h-2zM409 250h2v1h-2zM411 251h2v1h-2zM413 252h2v1h-2zM415 253h2v1h-2zM417 254h2v1h-2zM419 255h2v1h-2zM421 256h2v1h-2zM423 257h2v1h-2zM425 258h2v1h-2zM427 259h2v1h-2zM429 260h2v1h-2zM431 261h1v1h-1zM432 262h1v1h-1zM433 263h1v1h-1zM434 264h1v1h-1zM435 265h1v1h-1zM436 266h2v1h-2zM438 267h1v1h-1zM439 268h1v1h-1zM440 269h1v1h-1zM441 270h1v2h-1zM442 272h1v1h-1zM443 273h1v1h-1zM444 274h1v1h-1zM445 275h1v2h-1zM446 277h1v1h-1zM447 278h1v1h-1zM448 279h1v2h-1zM449 281h1v1h-1zM450 282h1v2h-1zM451 284h1v1h-1zM452 285h1v1h-1zM453 286h1v2h-1zM454 288h1v1h-1zM455 289h1v2h-1zM456 291h1v2h-1zM457 293h1v2h-1zM458 295h1v2h-1zM459 297h1v2h-1zM460 299h1v2h-1zM461 301h1v2h-1zM462 303h1v2h-1zM463 305h1v2h-1zM464 307h1v2h-1zM465 309h1v2h-1zM466 311h1v2h-1zM467 313h1v2h-1zM468 315h1v2h-1zM469 317h1v3h-1zM470 320h1v2h-1zM471 322h1v3h-1zM472 325h1v2h-1zM473 327h1v2h-1zM474 329h1v2h-1zM475 331h1v2h-1zM476 333h1v2h-1zM477 335h1v1h-1zM478 336h1v2h-1zM479 338h1v1h-1zM480 339h1v2h-1zM481 341h1v2h-1zM482 343h1v2h-1zM483 345h1v2h-1zM484 347h1v3h-1zM485 350h1v2h-1zM486 352h1v3h-1zM487 355h1v2h-1zM488 357h1v2h-1zM489 359h1v2h-1zM490 361h1v2h-1zM491 363h1v1h-1zM492 364h1v1h-1zM493 365h1v1h-1zM494 366h1v1h-1zM495 367h1v1h-1zM496 368h1v1h-1zM497 369h1v1h-1zM498 370h1v1h-1zM499 371h2v1h-2zM501 372h2v1h-2zM503 373h2v1h-2zM505 374h2v1h-2zM507 375h1v1h-1zM508 376h2v1h-2zM510 377h1v1h-1zM511 378h2v1h-2zM513 379h2v1h-2zM515 380h2v1h-2zM517 381h2v1h-2zM519 382h6v1h-6zM525 383h2v1h-2zM527 384h1v1h-1zM528 385h2v1h-2zM530 386h1v1h-1zM531 387h1v1h-1zM532 388h2v1h-2zM534 389h1v1h-1zM535 390h2v1h-2zM537 391h2v1h-2zM539 392h1v1h-1zM540 391h2v1h-2zM542 390h1v1h-1zM543 389h7v1h-7zM550 390h4v1h-4zM554 391h3v1h-3zM557 392h2v1h-2zM559 393h1v1h-1zM560 394h2v1h-2zM562 395h1v1h-1zM563 396h2v1h-2zM565 397h2v1h-2zM567 398h3v1h-3zM570 399h2v1h-2zM572 400h2v1h-2zM574 401h1v1h-1zM575 402h7v1h-7zM582 401h3v1h-3zM585 400h2v1h-2zM587 399h3v1h-3zM590 398h3v1h-3zM593 397h2v1h-2zM595 396h3v1h-3zM598 395h4v1h-4zM602 394h4v1h-4zM606 393h4v1h-4zM610 394h8v1h-8zM618 393h4v1h-4zM622 392h4v1h-4zM626 391h3v1h-3zM629 390h2v1h-2zM631 389h3v1h-3zM634 388h4v1h-4zM638 389h8v1h-8zM646 388h3v1h-3zM649 387h2v1h-2zM651 386h2v1h-2zM653 385h2v1h-2zM655 384h1v1h-1zM656 383h2v1h-2zM658 382h1v1h-1zM659 381h1v1h-1zM660 380h1v1h-1zM661 378h1v2h-1zM662 377h1v1h-1zM663 376h1v1h-1zM664 374h1v2h-1zM665 372h1v2h-1zM666 370h1v2h-1zM667 369h1v1h-1zM668 368h1v1h-1zM669 367h1v1h-1zM670 366h1v1h-1zM671 365h1v1h-1zM672 364h1v1h-1zM673 363h1v1h-1zM674 362h1v1h-1zM675 361h1v1h-1zM676 360h1v1h-1zM677 359h1v1h-1zM678 358h1v1h-1zM679 357h2v1h-2zM681 356h2v1h-2zM683 355h1v1h-1zM684 354h1v1h-1zM685 353h1v1h-1zM686 352h1v1h-1zM687 351h1v1h-1zM688 350h2v1h-2zM690 349h1v1h-1zM691 348h2v1h-2zM693 347h2v1h-2zM695 346h2v1h-2zM697 345h2v1h-2zM699 344h7v1h-7zM706 345h2v1h-2zM708 346h1v1h-1zM709 347h1v1h-1zM710 348h1v1h-1zM711 349h1v1h-1zM712 350h1v1h-1zM713 351h1v2h-1zM714 353h1v1h-1zM715 354h1v1h-1zM716 355h1v2h-1zM717 357h1v1h-1zM718 358h1v2h-1zM719 360h1v1h-1zM720 361h1v1h-1zM721 362h1v1h-1zM722 363h1v1h-1zM723 364h1v1h-1zM724 365h1v1h-1zM725 366h1v1h-1zM726 367h1v1h-1zM727 368h2v1h-2zM729 369h2v1h-2zM731 370h3v1h-3zM734 371h4v1h-4zM738 372h2v1h-2zM740 373h2v1h-2zM742 374h1v1h-1zM743 375h1v1h-1zM744 376h1v1h-1zM745 377h1v1h-1zM746 378h1v1h-1zM747 379h1v1h-1zM748 380h1v1h-1zM749 381h1v1h-1zM750 382h1v1h-1zM751 383h2v1h-2zM753 384h2v1h-2zM755 385h1v1h-1zM756 386h1v1h-1zM757 387h1v1h-1zM758 388h1v1h-1zM759 389h1v1h-1zM760 390h2v1h-2zM762 391h1v1h-1zM763 392h3v1h-3zM766 393h4v1h-4zM770 394h11v1h-11zM781 393h2v1h-2zM783 392h6v1h-6zM789 391h2v1h-2zM791 390h3v1h-3zM794 391h4v1h-4zM798 390h4v1h-4zM802 391h4v1h-4zM806 392h3v1h-3zM809 393h2v1h-2zM811 394h3v1h-3zM814 393h2v1h-2zM816 392h2v1h-2zM818 391h1v1h-1zM819 390h1v1h-1zM820 389h2v1h-2zM822 388h1v1h-1zM823 387h2v1h-2zM825 386h2v1h-2zM827 385h3v1h-3zM830 384h4v1h-4zM834 385h4v1h-4zM838 386h3v1h-3zM841 387h2v1h-2zM843 388h1v1h-1zM844 389h2v1h-2zM846 390h1v1h-1zM847 391h10v1h-10zM857 390h2v1h-2zM859 389h1v1h-1zM860 388h1v1h-1zM861 387h1v1h-1zM862 386h1v1h-1zM863 385h1v1h-1zM864 384h1v1h-1zM865 383h1v1h-1zM866 382h1v1h-1zM867 381h6v1h-6zM873 382h2v1h-2zM875 383h1v1h-1zM876 384h1v1h-1zM877 385h1v1h-1zM878 386h1v1h-1zM879 387h1v1h-1zM880 388h2v1h-2zM882 389h1v1h-1zM883 390h1v1h-1zM884 391h2v1h-2zM886 392h1v1h-1zM887 393h1v1h-1zM888 394h1v1h-1zM889 395h1v1h-1zM890 396h1v1h-1zM891 397h1v1h-1zM892 398h1v1h-1zM893 399h1v1h-1zM894 400h1v1h-1zM895 401h1v1h-1zM896 402h1v2h-1zM897 404h1v2h-1zM898 406h1v2h-1zM899 408h1v1h-1zM900 409h1v1h-1zM901 410h1v2h-1zM902 412h1v1h-1zM903 413h1v1h-1zM904 414h1v2h-1zM905 416h1v2h-1zM906 418h1v2h-1zM907 420h1v1h-1zM908 421h1v2h-1zM909 423h1v2h-1zM910 425h1v2h-1zM911 427h1v1h-1zM912 428h1v2h-1zM913 430h1v2h-1zM914 432h1v2h-1zM915 434h1v1h-1zM916 435h1v2h-1zM917 437h1v2h-1zM918 439h1v2h-1zM919 441h1v2h-1zM920 443h1v2h-1zM921 445h1v2h-1zM922 447h1v2h-1zM923 449h1v1h-1zM924 450h1v1h-1zM925 451h1v2h-1zM926 453h1v1h-1zM927 454h1v1h-1zM928 455h1v2h-1zM929 457h1v1h-1zM930 458h1v2h-1zM931 460h1v1h-1zM932 461h1v1h-1zM933 462h1v2h-1zM934 464h1v1h-1zM935 465h1v1h-1zM936 466h1v1h-1zM937 467h1v2h-1zM938 469h1v1h-1zM939 470h1v1h-1zM940 471h1v2h-1zM941 473h1v2h-1zM942 475h1v2h-1zM943 477h1v1h-1zM944 478h1v1h-1zM945 479h1v2h-1zM946 481h1v1h-1zM947 482h1v1h-1zM948 483h2v1h-2zM950 484h1v1h-1zM951 485h2v1h-2zM953 486h2v1h-2zM955 487h3v1h-3zM958 488h4v1h-4zM962 489h8v1h-8zM970 488h8v1h-8zM978 487h3v1h-3zM981 488h2v1h-2zM983 489h2v1h-2zM985 490h2v1h-2zM987 491h3v1h-3zM990 492h4v1h-4zM994 493h3v1h-3zM997 494h2v1h-2zM999 495h3v1h-3zM1002 496h4v1h-4zM1006 497h8v1h-8zM1014 498h4v1h-4zM1018 499h4v1h-4zM1022 498h4v1h-4zM1026 499h4v1h-4zM1030 500h8v1h-8zM1038 499h2v1h-2zM1040 498h2v1h-2zM1042 497h1v1h-1zM1043 496h2v1h-2zM1045 495h2v1h-2zM1047 494h3v1h-3zM1050 493h2v1h-2zM1052 492h2v1h-2zM1054 491h1v1h-1zM1055 490h1v1h-1zM1056 489h2v1h-2zM1058 488h1v1h-1zM1059 487h3v1h-3zM1062 486h7v1h-7zM1069 485h2v1h-2zM1071 484h7v1h-7zM1078 485h8v1h-8zM1086 484h7v1h-7zM1093 483h2v1h-2zM1095 482h2v1h-2zM1097 481h2v1h-2zM1099 480h1v1h-1zM1100 479h2v1h-2zM1102 478h1v1h-1zM1103 477h1v1h-1zM1104 476h1v1h-1zM1105 475h1v1h-1zM1106 474h1v1h-1zM1107 473h1v1h-1zM1108 472h2v1h-2zM1110 471h1v1h-1zM1111 470h1v1h-1zM1112 469h1v1h-1zM1113 467h1v2h-1zM1114 466h1v1h-1zM1115 465h1v1h-1zM1116 464h1v1h-1zM1117 463h1v1h-1zM1118 462h1v1h-1zM1119 461h2v1h-2zM1121 460h2v1h-2zM1123 459h7v1h-7zM1130 458h4v1h-4zM1134 457h4v1h-4zM1138 456h12v1h-12zM1150 455h7v1h-7zM1157 456h2v1h-2zM1159 457h3v1h-3zM1162 458h4v1h-4zM1166 459h6v1h-6zM1172 458h2v1h-2zM1174 457h1v1h-1zM1175 456h1v1h-1zM1176 455h2v1h-2zM1178 454h1v1h-1zM1179 453h1v1h-1zM1180 452h1v1h-1zM1181 450h1v2h-1zM1182 449h1v1h-1zM1183 448h1v1h-1zM1184 447h1v1h-1zM1185 445h1v2h-1zM1186 444h1v1h-1zM1187 443h1v1h-1zM1188 441h1v2h-1zM1189 439h1v2h-1zM1190 437h1v2h-1zM1191 436h1v1h-1zM1192 434h1v2h-1zM1193 432h1v2h-1zM1194 430h1v2h-1zM1195 428h1v2h-1zM1196 426h1v2h-1zM1197 424h1v2h-1zM1198 422h1v2h-1zM1199 420h1v2h-1zM1200 417h1v3h-1zM1201 415h1v2h-1zM1202 412h1v3h-1zM1203 409h1v3h-1zM1204 407h1v2h-1zM1205 404h1v3h-1zM1206 402h1v2h-1zM1207 399h1v3h-1zM1208 397h1v2h-1zM1209 394h1v3h-1zM1210 392h1v2h-1zM1211 389h1v3h-1zM1212 386h1v3h-1zM1213 382h1v4h-1zM1214 379h1v3h-1zM1215 376h1v3h-1zM1216 374h1v2h-1zM1217 371h1v3h-1zM1218 369h1v2h-1zM1219 366h1v3h-1zM1220 364h1v2h-1zM1221 361h1v3h-1zM1222 359h1v2h-1zM1223 356h1v3h-1zM1224 354h1v2h-1zM1225 352h1v2h-1zM1226 350h1v2h-1zM1227 349h1v1h-1zM1228 347h1v2h-1zM1229 346h1v1h-1zM1230 344h1v2h-1zM1231 342h1v2h-1zM1232 340h1v2h-1zM1233 338h1v2h-1zM1234 336h1v2h-1zM1235 335h1v1h-1zM1236 333h1v2h-1zM1237 331h1v2h-1zM1238 329h1v2h-1zM1239 328h1v1h-1zM1240 326h1v2h-1zM1241 325h1v1h-1zM1242 323h1v2h-1zM1243 322h1v1h-1zM1244 321h1v1h-1zM1245 320h1v1h-1zM1246 319h1v1h-1zM1247 318h1v1h-1zM1248 317h1v1h-1zM1249 316h1v1h-1zM1250 315h1v1h-1zM1251 314h1v1h-1zM1252 313h2v1h-2zM1254 312h1v1h-1zM1255 311h1v1h-1z"/>
<path fill="#ffa500" shape-rendering="crispEdges" d="M3 198h1v3h-1zM4 194h1v4h-1zM5 190h1v4h-1zM6 186h1v4h-1zM7 180h1v6h-1zM8 173h1v7h-1zM9 165h1v8h-1zM10 158h1v7h-1zM11 150h1v8h-1zM12 141h1v9h-1zM13 132h1v9h-1zM14 123h1v9h-1zM15 116h1v7h-1zM16 110h1v6h-1zM17 104h1v6h-1zM18 98h1v6h-1zM19 93h1v5h-1zM20 89h1v4h-1zM21 85h1v4h-1zM22 81h1v4h-1zM23 79h1v2h-1zM24 77h1v2h-1zM25 75h1v2h-1zM26 73h1v2h-1zM27 72h1v1h-1zM28 73h1v1h-1zM29 74h1v2h-1zM30 76h1v1h-1zM31 77h1v3h-1zM32 80h1v5h-1zM33 85h1v4h-1zM34 89h1v5h-1zM35 94h1v6h-1zM36 100h1v7h-1zM37 107h1v8h-1zM38 115h1v7h-1zM39 122h1v7h-1zM40 129h1v6h-1zM41 135h1v6h-1zM42 141h1v6h-1zM43 147h1v6h-1zM44 153h1v4h-1zM45 157h1v5h-1zM46 162h1v4h-1zM47 166h1v4h-1zM48 170h1v3h-1zM49 173h1v3h-1zM50 176h1v3h-1zM51 179h1v2h-1zM52 180h1v1h-1zM53 179h2v1h-2zM55 177h1v2h-1zM56 173h1v4h-1zM57 170h1v3h-1zM58 166h1v4h-1zM59 162h1v4h-1zM60 157h1v5h-1zM61 151h1v6h-1zM62 146h1v5h-1zM63 142h1v4h-1zM64 139h1v3h-1zM65 135h1v4h-1zM66 132h1v3h-1zM67 129h1v3h-1zM68 126h1v3h-1zM69 123h1v3h-1zM70 120h1v3h-1zM71 118h1v2h-1zM72 117h2v1h-2zM74 116h1v1h-1zM75 115h2v1h-2zM77 116h2v1h-2zM79 117h1v2h-1zM80 119h1v2h-1zM81 121h1v3h-1zM82 124h1v2h-1zM83 126h1v3h-1zM84 129h1v2h-1zM85 131h1v2h-1zM86 133h1v2h-1zM87 135h1v3h-1zM88 138h1v2h-1zM89 140h1v3h-1zM90 143h1v2h-1zM91 145h1v2h-1zM92 147h2v1h-2zM94 148h1v1h-1zM95 149h1v2h-1zM96 151h1v2h-1zM97 153h1v2h-1zM98 155h1v2h-1zM99 157h1v2h-1zM100 158h2v1h-2zM102 159h2v1h-2zM104 158h1v1h-1zM105 157h1v1h-1zM106 156h1v1h-1zM107 155h3v1h-3zM110 154h4v1h-4zM114 155h2v1h-2zM116 153h1v2h-1zM117 152h1v1h-1zM118 150h1v2h-1zM119 149h1v1h-1zM120 148h1v1h-1zM121 147h1v1h-1zM122 146h1v1h-1zM123 145h2v1h-2zM125 144h2v1h-2zM127 143h1v1h-1zM128 141h1v2h-1zM129 140h1v1h-1zM130 138h1v2h-1zM131 137h1v1h-1zM132 135h1v2h-1zM133 134h1v1h-1zM134 132h1v2h-1zM135 131h1v1h-1zM136 129h1v2h-1zM137 127h1v2h-1zM138 125h1v2h-1zM139 124h1v1h-1zM140 123h1v1h-1zM141 121h1v2h-1zM142 120h1v1h-1zM143 119h1v1h-1zM144 118h1v1h-1zM145 117h1v1h-1zM146 116h1v1h-1zM147 115h3v1h-3zM150 114h2v1h-2zM152 115h1v2h-1zM153 117h1v2h-1zM154 119h1v2h-1zM155 121h1v2h-1zM156 123h1v3h-1zM157 126h1v4h-1zM158 130h1v3h-1zM159 133h1v3h-1zM160 136h1v3h-1zM161 139h1v3h-1zM162 142h1v3h-1zM163 145h1v3h-1zM164 148h1v2h-1zM165 150h1v2h-1zM166 152h1v2h-1zM167 154h2v1h-2zM169 155h2v1h-2zM171 156h1v1h-1zM172 154h1v2h-1zM173 153h1v1h-1zM174 151h1v2h-1zM175 149h1v2h-1zM176 146h1v3h-1zM177 142h1v4h-1zM178 139h1v3h-1zM179 137h1v2h-1zM180 135h1v2h-1zM181 133h1v2h-1zM182 131h1v2h-1zM183 130h1v1h-1zM184 129h1v1h-1zM185 128h1v1h-1zM186 127h1v1h-1zM187 126h5v1h-5zM192 127h1v1h-1zM193 128h1v2h-1zM194 130h1v1h-1zM195 131h1v1h-1zM196 132h1v1h-1zM197 133h1v1h-1zM198 134h1v1h-1zM199 135h2v1h-2zM201 134h2v1h-2zM203 133h2v1h-2zM205 132h2v1h-2zM207 131h6v1h-6zM213 130h2v1h-2zM215 129h2v1h-2zM217 128h2v1h-2zM219 127h1v1h-1zM220 128h1v2h-1zM221 130h1v2h-1zM222 132h1v2h-1zM223 134h2v1h-2zM225 135h2v1h-2zM227 136h6v1h-6zM233 135h2v1h-2zM235 134h3v1h-3zM238 135h3v1h-3zM241 134h2v1h-2zM243 133h3v1h-3zM246 134h2v1h-2zM248 135h1v2h-1zM249 137h1v2h-1zM250 139h1v2h-1zM251 141h1v2h-1zM252 143h1v2h-1zM253 145h1v2h-1zM254 147h1v2h-1zM255 149h1v3h-1zM256 152h1v2h-1zM257 154h1v2h-1zM258 156h1v2h-1zM259 158h1v1h-1zM260 159h1v1h-1zM261 160h1v2h-1zM262 162h1v1h-1zM263 163h1v1h-1zM264 164h1v2h-1zM265 166h1v1h-1zM266 167h1v2h-1zM267 169h2v1h-2zM269 170h2v1h-2zM271 171h1v1h-1zM272 172h1v1h-1zM273 173h1v1h-1zM274 174h1v1h-1zM275 175h9v1h-9zM284 176h1v1h-1zM285 177h1v1h-1zM286 178h1v1h-1zM287 179h1v2h-1zM288 181h1v3h-1zM289 184h1v2h-1zM290 186h1v3h-1zM291 189h1v3h-1zM292 192h1v2h-1zM293 194h1v3h-1zM294 197h1v2h-1zM295 199h1v4h-1zM296 203h1v5h-1zM297 208h1v6h-1zM298 214h1v5h-1zM299 219h1v4h-1zM300 223h1v2h-1zM301 225h1v2h-1zM302 227h1v2h-1zM303 229h1v2h-1zM304 230h1v1h-1zM305 231h2v1h-2zM307 232h2v1h-2zM309 231h2v1h-2zM311 230h1v1h-1zM312 229h2v1h-2zM314 228h1v1h-1zM315 226h1v2h-1zM316 223h1v3h-1zM317 221h1v2h-1zM318 218h1v3h-1zM319 216h6v1h-6zM319 217h1v1h-1zM325 217h2v1h-2zM327 218h3v1h-3zM330 217h3v1h-3zM333 218h2v1h-2zM335 219h1v1h-1zM336 220h1v2h-1zM337 222h1v1h-1zM338 223h1v2h-1zM339 225h1v1h-1zM340 226h2v1h-2zM342 227h1v1h-1zM343 228h1v1h-1zM344 229h2v1h-2zM346 230h1v1h-1zM347 231h1v1h-1zM348 232h2v1h-2zM350 233h1v1h-1zM351 234h5v1h-5zM356 233h1v1h-1zM357 231h1v2h-1zM358 230h1v1h-1zM359 229h2v1h-2zM361 228h2v1h-2zM363 227h1v1h-1zM364 228h2v1h-2zM366 229h1v1h-1zM367 230h2v1h-2zM369 231h2v1h-2zM371 232h3v1h-3zM374 233h2v1h-2zM376 234h1v1h-1zM377 235h1v2h-1zM378 237h1v1h-1zM379 238h1v1h-1zM380 239h1v2h-1zM381 241h1v1h-1zM382 242h1v2h-1zM383 244h1v1h-1zM384 245h1v1h-1zM385 246h1v1h-1zM386 247h1v1h-1zM387 248h1v1h-1zM388 249h1v2h-1zM389 251h1v2h-1zM390 253h1v2h-1zM391 255h1v1h-1zM392 256h1v1h-1zM393 257h1v2h-1zM394 259h1v1h-1zM395 260h1v1h-1zM396 261h1v1h-1zM397 262h1v1h-1zM398 263h1v1h-1zM399 264h13v1h-13zM412 263h1v1h-1zM413 262h1v1h-1zM414 261h1v1h-1zM415 260h1v1h-1zM416 259h2v1h-2zM418 258h1v1h-1zM419 257h2v1h-2zM421 258h2v1h-2zM423 259h2v1h-2zM425 260h2v1h-2zM427 261h5v1h-5zM431 262h1v1h-1zM432 263h1v2h-1zM433 265h1v2h-1zM434 267h1v2h-1zM435 269h1v3h-1zM436 272h1v3h-1zM437 275h1v3h-1zM438 278h1v3h-1zM439 281h1v3h-1zM440 284h1v3h-1zM441 287h1v3h-1zM442 290h1v3h-1zM443 293h1v3h-1zM444 296h1v4h-1zM445 300h1v3h-1zM446 303h1v4h-1zM447 307h1v3h-1zM448 310h1v4h-1zM449 314h1v3h-1zM450 317h1v4h-1zM451 321h1v3h-1zM452 324h1v3h-1zM453 327h1v3h-1zM454 330h1v3h-1zM455 333h1v3h-1zM456 336h1v2h-1zM457 338h1v3h-1zM458 341h1v2h-1zM459 343h1v3h-1zM460 346h1v2h-1zM461 348h1v2h-1zM462 350h1v2h-1zM463 352h1v3h-1zM464 355h1v2h-1zM465 357h1v2h-1zM466 359h1v2h-1zM467 361h1v2h-1zM468 363h1v2h-1zM469 365h1v3h-1zM470 368h1v2h-1zM471 370h1v2h-1zM472 372h1v2h-1zM473 374h1v1h-1zM474 375h1v2h-1zM475 377h2v1h-2zM477 376h2v1h-2zM479 375h3v1h-3zM482 374h2v1h-2zM484 375h1v2h-1zM485 377h1v1h-1zM486 378h1v2h-1zM487 380h3v1h-3zM490 381h4v1h-4zM494 380h2v1h-2zM496 381h1v2h-1zM497 383h1v1h-1zM498 384h1v2h-1zM499 386h5v1h-5zM503 385h1v1h-1zM504 383h1v2h-1zM505 380h1v3h-1zM506 378h1v2h-1zM507 376h3v1h-3zM507 377h1v1h-1zM510 375h2v1h-2zM512 376h1v1h-1zM513 377h1v1h-1zM514 378h1v1h-1zM515 379h1v1h-1zM516 380h2v1h-2zM518 381h1v1h-1zM519 382h1v1h-1zM520 383h1v2h-1zM521 385h1v1h-1zM522 386h1v2h-1zM523 388h1v2h-1zM524 390h1v2h-1zM525 392h1v2h-1zM526 394h1v2h-1zM527 396h1v2h-1zM528 398h1v2h-1zM529 400h1v1h-1zM530 401h1v2h-1zM531 403h3v1h-3zM534 402h4v1h-4zM538 403h2v1h-2zM540 402h2v1h-2zM542 401h1v1h-1zM543 400h1v1h-1zM544 398h1v2h-1zM545 397h1v1h-1zM546 395h1v2h-1zM547 394h1v1h-1zM548 392h1v2h-1zM549 390h1v2h-1zM550 388h1v2h-1zM551 387h2v1h-2zM553 388h2v1h-2zM555 389h5v1h-5zM560 390h1v1h-1zM561 391h1v1h-1zM562 392h1v1h-1zM563 393h1v1h-1zM564 394h1v2h-1zM565 396h1v2h-1zM566 398h1v2h-1zM567 400h1v1h-1zM568 401h1v1h-1zM569 402h1v2h-1zM570 404h1v1h-1zM571 405h1v1h-1zM572 406h1v2h-1zM573 408h1v2h-1zM574 410h1v2h-1zM575 412h2v1h-2zM577 413h2v1h-2zM579 414h1v1h-1zM580 413h2v1h-2zM582 412h1v1h-1zM583 411h1v1h-1zM584 410h1v1h-1zM585 408h1v2h-1zM586 407h1v1h-1zM587 405h1v2h-1zM588 403h1v2h-1zM589 401h1v2h-1zM590 399h1v2h-1zM591 397h1v2h-1zM592 395h1v2h-1zM593 392h1v3h-1zM594 390h1v2h-1zM595 388h1v2h-1zM596 386h1v2h-1zM597 384h1v2h-1zM598 382h1v2h-1zM599 381h1v1h-1zM600 379h1v2h-1zM601 378h1v1h-1zM602 376h1v2h-1zM603 375h2v1h-2zM605 374h2v1h-2zM607 373h1v1h-1zM608 374h1v2h-1zM609 376h1v1h-1zM610 377h1v2h-1zM611 379h1v1h-1zM612 380h2v1h-2zM614 381h1v1h-1zM615 382h1v1h-1zM616 383h1v1h-1zM617 384h1v2h-1zM618 386h1v1h-1zM619 387h1v2h-1zM620 389h1v2h-1zM621 391h1v2h-1zM622 393h1v2h-1zM623 395h1v1h-1zM624 396h1v1h-1zM625 397h1v1h-1zM626 398h1v1h-1zM627 399h11v1h-11zM638 398h3v1h-3zM641 397h2v1h-2zM643 396h1v1h-1zM644 394h1v2h-1zM645 392h1v2h-1zM646 390h1v2h-1zM647 388h1v2h-1zM648 386h1v2h-1zM649 383h1v3h-1zM650 381h1v2h-1zM651 378h1v3h-1zM652 375h1v3h-1zM653 372h1v3h-1zM654 369h1v3h-1zM655 366h1v3h-1zM656 362h1v4h-1zM657 359h1v3h-1zM658 355h1v4h-1zM659 351h1v4h-1zM660 347h1v4h-1zM661 343h1v4h-1zM662 339h1v4h-1zM663 336h1v3h-1zM664 333h1v3h-1zM665 331h1v2h-1zM666 328h1v3h-1zM667 326h1v2h-1zM668 325h1v1h-1zM669 324h1v1h-1zM670 323h1v1h-1zM671 322h2v1h-2zM673 323h2v1h-2zM675 324h1v1h-1zM676 325h1v2h-1zM677 327h1v1h-1zM678 328h1v2h-1zM679 330h1v2h-1zM680 332h1v2h-1zM681 334h1v3h-1zM682 337h1v2h-1zM683 339h1v2h-1zM684 341h1v2h-1zM685 343h1v2h-1zM686 345h1v2h-1zM687 347h1v1h-1zM688 348h1v1h-1zM689 349h1v1h-1zM690 350h1v1h-1zM691 351h1v1h-1zM692 352h1v1h-1zM693 353h1v2h-1zM694 355h1v1h-1zM695 356h1v1h-1zM696 357h2v1h-2zM698 358h1v1h-1zM699 359h3v1h-3zM702 360h3v1h-3zM705 361h2v1h-2zM707 362h1v2h-1zM708 364h1v2h-1zM709 366h1v2h-1zM710 368h1v2h-1zM711 370h1v2h-1zM712 372h1v1h-1zM713 373h1v2h-1zM714 375h1v1h-1zM715 376h1v1h-1zM716 377h1v1h-1zM717 378h1v2h-1zM718 380h1v1h-1zM719 381h3v1h-3zM722 382h2v1h-2zM724 383h1v1h-1zM725 384h1v1h-1zM726 385h1v1h-1zM727 386h1v1h-1zM728 385h2v1h-2zM730 384h1v1h-1zM731 383h1v1h-1zM732 382h1v1h-1zM733 380h1v2h-1zM734 379h1v1h-1zM735 378h1v1h-1zM736 377h1v1h-1zM737 375h1v2h-1zM738 374h1v1h-1zM739 373h1v1h-1zM740 374h1v1h-1zM741 375h1v2h-1zM742 377h1v1h-1zM743 378h1v1h-1zM744 379h1v1h-1zM745 380h1v2h-1zM746 382h1v1h-1zM747 383h1v2h-1zM748 385h1v2h-1zM749 387h1v2h-1zM750 389h1v2h-1zM751 391h1v2h-1zM752 393h1v2h-1zM753 395h1v2h-1zM754 397h1v2h-1zM755 399h1v2h-1zM756 401h1v2h-1zM757 403h1v2h-1zM758 405h1v2h-1zM759 407h1v1h-1zM760 408h2v1h-2zM762 409h1v1h-1zM763 410h6v1h-6zM769 409h2v1h-2zM771 408h2v1h-2zM773 407h2v1h-2zM775 405h1v2h-1zM776 403h1v2h-1zM777 400h1v3h-1zM778 398h1v2h-1zM779 395h1v3h-1zM780 393h1v2h-1zM781 390h1v3h-1zM782 388h1v2h-1zM783 385h1v3h-1zM784 383h1v2h-1zM785 381h1v2h-1zM786 379h1v2h-1zM787 377h1v2h-1zM788 374h1v3h-1zM789 372h1v2h-1zM790 369h1v3h-1zM791 367h1v2h-1zM792 366h2v1h-2zM794 365h1v1h-1zM795 364h1v1h-1zM796 365h1v1h-1zM797 366h1v2h-1zM798 368h1v1h-1zM799 369h1v2h-1zM800 371h1v2h-1zM801 373h1v2h-1zM802 375h1v2h-1zM803 377h1v3h-1zM804 380h1v4h-1zM805 384h1v4h-1zM806 388h1v4h-1zM807 392h1v4h-1zM808 396h1v4h-1zM809 400h1v4h-1zM810 404h1v4h-1zM811 408h1v3h-1zM812 410h1v1h-1zM813 411h2v1h-2zM815 412h3v1h-3zM818 411h2v1h-2zM819 410h1v1h-1zM820 407h1v3h-1zM821 405h1v2h-1zM822 402h1v3h-1zM823 399h1v3h-1zM824 396h1v3h-1zM825 393h1v3h-1zM826 390h1v3h-1zM827 387h1v3h-1zM828 384h1v3h-1zM829 381h1v3h-1zM830 378h1v3h-1zM831 376h1v2h-1zM832 375h2v1h-2zM834 374h1v1h-1zM835 373h3v1h-3zM838 374h2v1h-2zM840 375h1v2h-1zM841 377h1v1h-1zM842 378h1v2h-1zM843 380h1v1h-1zM844 381h1v1h-1zM845 382h1v1h-1zM846 383h1v1h-1zM847 384h3v1h-3zM850 385h3v1h-3zM853 386h2v1h-2zM855 387h3v1h-3zM858 388h3v1h-3zM861 387h2v1h-2zM863 386h1v1h-1zM864 385h2v1h-2zM866 384h1v1h-1zM867 383h2v1h-2zM869 384h2v1h-2zM871 385h1v1h-1zM872 386h2v1h-2zM874 387h1v1h-1zM875 388h1v1h-1zM876 389h1v2h-1zM877 391h1v1h-1zM878 392h1v2h-1zM879 394h1v2h-1zM880 396h1v2h-1zM881 398h1v2h-1zM882 400h1v2h-1zM883 402h1v1h-1zM884 403h1v2h-1zM885 405h1v1h-1zM886 406h1v2h-1zM887 408h1v2h-1zM888 410h1v2h-1zM889 412h1v2h-1zM890 414h1v2h-1zM891 416h1v2h-1zM892 418h1v2h-1zM893 420h1v2h-1zM894 422h1v2h-1zM895 424h1v3h-1zM896 427h1v3h-1zM897 430h1v3h-1zM898 433h1v3h-1zM899 436h1v3h-1zM900 439h1v3h-1zM901 442h1v3h-1zM902 445h1v3h-1zM903 448h1v3h-1zM904 451h1v3h-1zM905 454h1v3h-1zM906 457h1v3h-1zM907 460h1v3h-1zM908 463h1v2h-1zM909 465h1v3h-1zM910 468h1v2h-1zM911 470h1v2h-1zM912 472h1v2h-1zM913 474h1v2h-1zM914 476h1v2h-1zM915 478h3v1h-3zM918 479h2v1h-2zM920 480h2v1h-2zM922 481h1v1h-1zM923 482h7v1h-7zM930 481h6v1h-6zM936 482h2v1h-2zM938 483h1v1h-1zM939 484h1v1h-1zM940 485h2v1h-2zM942 486h1v1h-1zM943 487h1v1h-1zM944 488h1v1h-1zM945 489h1v2h-1zM946 491h1v1h-1zM947 492h1v1h-1zM948 493h1v1h-1zM949 494h1v1h-1zM950 495h1v1h-1zM951 496h1v1h-1zM952 497h1v1h-1zM953 498h1v1h-1zM954 499h1v1h-1zM955 500h3v1h-3zM958 499h2v1h-2zM960 498h1v1h-1zM961 497h1v1h-1zM962 496h1v1h-1zM963 495h1v1h-1zM964 494h1v1h-1zM965 493h1v1h-1zM966 492h1v1h-1zM967 491h1v1h-1zM968 490h1v1h-1zM969 488h1v2h-1zM970 487h1v1h-1zM971 486h1v1h-1zM972 484h1v2h-1zM973 483h1v1h-1zM974 481h1v2h-1zM975 480h2v1h-2zM977 479h2v1h-2zM979 478h1v1h-1zM980 479h1v1h-1zM981 480h1v1h-1zM982 481h1v1h-1zM983 482h1v1h-1zM984 483h1v2h-1zM985 485h1v1h-1zM986 486h1v2h-1zM987 488h1v1h-1zM988 489h1v2h-1zM989 491h1v1h-1zM990 492h1v2h-1zM991 494h1v1h-1zM992 495h1v1h-1zM993 496h1v2h-1zM994 498h1v1h-1zM995 499h1v2h-1zM996 501h1v2h-1zM997 503h1v2h-1zM998 505h1v2h-1zM999 507h1v2h-1zM1000 509h1v1h-1zM1001 510h1v1h-1zM1002 511h1v1h-1zM1003 512h2v1h-2zM1005 513h2v1h-2zM1007 514h2v1h-2zM1009 513h2v1h-2zM1011 512h2v1h-2zM1013 513h2v1h-2zM1015 514h1v1h-1zM1016 512h1v2h-1zM1017 511h1v1h-1zM1018 509h1v2h-1zM1019 507h1v2h-1zM1020 504h1v3h-1zM1021 502h1v2h-1zM1022 499h1v3h-1zM1023 497h1v2h-1zM1024 495h1v2h-1zM1025 494h1v1h-1zM1026 492h1v2h-1zM1027 491h2v1h-2zM1029 490h2v1h-2zM1031 489h1v1h-1zM1032 488h1v1h-1zM1033 486h1v2h-1zM1034 485h1v1h-1zM1035 484h1v1h-1zM1036 483h2v1h-2zM1038 482h1v1h-1zM1039 481h6v1h-6zM1045 480h2v1h-2zM1047 479h7v1h-7zM1054 478h2v1h-2zM1056 479h2v1h-2zM1058 480h1v1h-1zM1059 481h1v1h-1zM1060 482h1v1h-1zM1061 483h1v2h-1zM1062 485h1v1h-1zM1063 486h1v1h-1zM1064 487h1v1h-1zM1065 488h1v1h-1zM1066 489h1v1h-1zM1067 490h6v1h-6zM1073 491h2v1h-2zM1075 492h2v1h-2zM1077 491h2v1h-2zM1079 490h1v1h-1zM1080 489h2v1h-2zM1082 488h1v1h-1zM1083 487h1v1h-1zM1084 486h2v1h-2zM1086 485h1v1h-1zM1087 484h2v1h-2zM1089 483h2v1h-2zM1091 482h1v1h-1zM1092 480h1v2h-1zM1093 478h1v2h-1zM1094 476h1v2h-1zM1095 474h1v2h-1zM1096 472h1v2h-1zM1097 470h1v2h-1zM1098 468h1v2h-1zM1099 466h1v2h-1zM1100 464h1v2h-1zM1101 462h1v2h-1zM1102 460h1v2h-1zM1103 457h1v3h-1zM1104 454h1v3h-1zM1105 451h1v3h-1zM1106 448h1v3h-1zM1107 445h1v3h-1zM1108 443h1v2h-1zM1109 441h1v2h-1zM1110 439h1v2h-1zM1111 438h1v1h-1zM1112 437h1v1h-1zM1113 436h1v1h-1zM1114 435h1v1h-1zM1115 434h5v1h-5zM1120 435h1v2h-1zM1121 437h1v1h-1zM1122 438h1v2h-1zM1123 440h1v2h-1zM1124 442h1v3h-1zM1125 445h1v2h-1zM1126 447h1v3h-1zM1127 450h1v3h-1zM1128 453h1v2h-1zM1129 455h1v2h-1zM1130 457h1v2h-1zM1131 459h1v1h-1zM1132 460h1v2h-1zM1133 462h1v2h-1zM1134 464h1v2h-1zM1135 466h1v1h-1zM1136 467h1v2h-1zM1137 469h1v1h-1zM1138 470h1v2h-1zM1139 472h1v1h-1zM1140 473h2v1h-2zM1142 474h1v1h-1zM1143 475h3v1h-3zM1146 474h2v1h-2zM1148 472h1v2h-1zM1149 471h1v1h-1zM1150 469h1v2h-1zM1151 468h1v1h-1zM1152 467h1v1h-1zM1153 465h1v2h-1zM1154 464h1v1h-1zM1155 463h1v1h-1zM1156 462h2v1h-2zM1158 461h1v1h-1zM1159 460h1v1h-1zM1160 458h1v2h-1zM1161 457h1v1h-1zM1162 455h1v2h-1zM1163 454h1v1h-1zM1164 452h1v2h-1zM1165 451h1v1h-1zM1166 449h1v2h-1zM1167 448h2v1h-2zM1169 447h2v1h-2zM1171 445h1v2h-1zM1172 443h1v2h-1zM1173 441h1v2h-1zM1174 439h1v2h-1zM1175 437h1v2h-1zM1176 435h1v2h-1zM1177 433h1v2h-1zM1178 431h1v2h-1zM1179 429h1v2h-1zM1180 427h1v2h-1zM1181 425h1v2h-1zM1182 423h1v2h-1zM1183 421h1v2h-1zM1184 419h1v2h-1zM1185 416h1v3h-1zM1186 414h1v2h-1zM1187 411h1v3h-1zM1188 408h1v3h-1zM1189 406h1v2h-1zM1190 403h1v3h-1zM1191 401h1v2h-1zM1192 400h1v1h-1zM1193 398h1v2h-1zM1194 397h1v1h-1zM1195 395h1v2h-1zM1196 392h1v3h-1zM1197 389h1v3h-1zM1198 386h1v3h-1zM1199 382h1v4h-1zM1200 378h1v4h-1zM1201 374h1v4h-1zM1202 370h1v4h-1zM1203 365h1v5h-1zM1204 360h1v5h-1zM1205 356h1v4h-1zM1206 351h1v5h-1zM1207 347h1v4h-1zM1208 343h1v4h-1zM1209 339h1v4h-1zM1210 335h1v4h-1zM1211 331h1v4h-1zM1212 327h1v4h-1zM1213 322h1v5h-1zM1214 318h1v4h-1zM1215 314h1v4h-1zM1216 311h1v3h-1zM1217 309h1v2h-1zM1218 306h1v3h-1zM1219 304h1v2h-1zM1220 303h1v1h-1zM1221 301h1v2h-1zM1222 300h1v1h-1zM1223 299h1v1h-1zM1224 300h1v1h-1zM1225 301h1v2h-1zM1226 303h1v1h-1zM1227 304h3v1h-3zM1230 305h2v1h-2zM1232 306h1v1h-1zM1233 307h1v2h-1zM1234 309h1v1h-1zM1235 310h2v1h-2zM1237 311h2v1h-2zM1239 312h1v1h-1zM1240 313h1v1h-1zM1241 314h1v1h-1zM1242 315h1v1h-1zM1243 316h3v1h-3zM1246 315h4v1h-4zM1250 316h4v1h-4zM1254 317h2v1h-2z"/>
<path d="M5.9 32h7.2l-3.6 4.2z" fill="#000"/>
<text x="17.9" y="36.8" font-size="10.1" fill="#000" stroke="#000" stroke-width="0.3" textLength="64.6" lengthAdjust="spacingAndGlyphs">USDCHF,Daily</text>
<text x="88.9" y="36.8" font-size="10.1" fill="#000" stroke="#000" stroke-width="0.3" textLength="141" lengthAdjust="spacingAndGlyphs">0.92809 0.92918 0.92671 0.92794</text>
<text x="7.3" y="566.9" font-size="10.1" fill="#000" stroke="#000" stroke-width="0.3" textLength="31.1" lengthAdjust="spacingAndGlyphs">RSI(14)</text>
<text x="42.2" y="566.9" font-size="10.1" fill="#000" stroke="#000" stroke-width="0.3" textLength="32.9" lengthAdjust="spacingAndGlyphs">63.6497</text>
<text x="7.5" y="664.7" font-size="10.1" fill="#000" stroke="#000" stroke-width="0.3" textLength="65.2" lengthAdjust="spacingAndGlyphs">MACD(12,26,9)</text>
<text x="76.2" y="664.7" font-size="10.1" fill="#000" stroke="#000" stroke-width="0.3" textLength="78.5" lengthAdjust="spacingAndGlyphs">0.006970 0.008553</text>
<g shape-rendering="crispEdges">
<path d="M4 584.5H1579" stroke="#c0c0c0" stroke-width="1" stroke-dasharray="3 3" fill="none"/>
<path d="M4 621.5H1579" stroke="#c0c0c0" stroke-width="1" stroke-dasharray="3 3" fill="none"/>
<rect x="1580" y="556" width="1" height="1" fill="#000"/>
</g>
<path fill="#1e90ff" shape-rendering="crispEdges" d="M3 598h1v1h-1zM4 597h1v1h-1zM5 595h1v2h-1zM6 594h1v1h-1zM7 593h1v1h-1zM8 592h1v1h-1zM9 590h1v2h-1zM10 589h1v1h-1zM11 588h3v1h-3zM14 587h4v1h-4zM18 586h2v1h-2zM20 587h1v1h-1zM21 588h1v2h-1zM22 590h1v1h-1zM23 591h3v1h-3zM26 592h2v1h-2zM28 593h2v1h-2zM30 594h1v1h-1zM31 595h1v2h-1zM32 597h1v2h-1zM33 599h1v2h-1zM34 601h1v2h-1zM35 603h1v2h-1zM36 605h1v1h-1zM37 606h1v2h-1zM38 608h1v1h-1zM39 609h3v1h-3zM42 610h2v1h-2zM44 609h1v1h-1zM45 607h1v2h-1zM46 606h1v1h-1zM47 605h3v1h-3zM50 604h2v1h-2zM52 603h2v1h-2zM54 602h1v1h-1zM55 601h1v1h-1zM56 600h2v1h-2zM58 599h1v1h-1zM59 598h1v1h-1zM60 597h2v1h-2zM62 596h1v1h-1zM63 595h3v1h-3zM66 596h6v1h-6zM72 597h1v1h-1zM73 598h1v2h-1zM74 600h1v1h-1zM75 601h3v1h-3zM78 600h2v1h-2zM80 601h1v1h-1zM81 602h1v1h-1zM82 603h1v1h-1zM83 604h3v1h-3zM86 605h4v1h-4zM90 604h4v1h-4zM94 603h2v1h-2zM96 604h1v1h-1zM97 605h1v2h-1zM98 607h1v1h-1zM99 608h1v1h-1zM100 607h2v1h-2zM102 606h1v1h-1zM103 605h1v1h-1zM104 604h1v1h-1zM105 603h1v1h-1zM106 602h1v1h-1zM107 601h2v1h-2zM109 602h2v1h-2zM111 603h3v1h-3zM114 602h4v1h-4zM118 603h3v1h-3zM121 602h2v1h-2zM123 601h2v1h-2zM125 600h2v1h-2zM127 599h2v1h-2zM129 598h2v1h-2zM131 597h2v1h-2zM133 596h2v1h-2zM135 595h11v1h-11zM146 596h6v1h-6zM151 597h1v1h-1zM152 598h1v2h-1zM153 600h1v3h-1zM154 603h1v2h-1zM155 605h1v2h-1zM156 607h1v2h-1zM157 609h1v2h-1zM158 611h1v2h-1zM159 613h1v1h-1zM160 612h2v1h-2zM162 611h1v1h-1zM163 610h1v1h-1zM164 609h1v1h-1zM165 608h1v1h-1zM166 607h1v1h-1zM167 606h1v1h-1zM168 604h1v2h-1zM169 602h1v2h-1zM170 600h1v2h-1zM171 599h2v1h-2zM173 598h2v1h-2zM175 597h5v1h-5zM180 598h1v1h-1zM181 599h1v2h-1zM182 601h1v1h-1zM183 602h3v1h-3zM186 601h4v1h-4zM190 600h2v1h-2zM192 601h1v1h-1zM193 602h1v1h-1zM194 603h1v1h-1zM195 604h2v1h-2zM197 603h2v1h-2zM199 602h1v1h-1zM200 601h2v1h-2zM202 600h1v1h-1zM203 599h7v1h-7zM210 600h2v1h-2zM212 601h2v1h-2zM214 602h1v1h-1zM215 603h1v1h-1zM216 602h1v1h-1zM217 601h1v1h-1zM218 600h2v1h-2zM219 599h1v1h-1zM220 601h1v2h-1zM221 603h1v3h-1zM222 606h1v2h-1zM223 608h2v1h-2zM223 609h1v1h-1zM224 607h1v1h-1zM225 606h1v1h-1zM226 604h1v2h-1zM227 603h1v1h-1zM228 602h2v1h-2zM230 601h1v1h-1zM231 600h6v1h-6zM237 601h2v1h-2zM239 602h1v1h-1zM240 603h1v1h-1zM241 604h1v2h-1zM242 606h1v1h-1zM243 607h1v1h-1zM244 606h1v1h-1zM245 605h1v1h-1zM246 604h1v1h-1zM247 603h1v1h-1zM248 604h1v2h-1zM249 606h1v1h-1zM250 607h1v2h-1zM251 609h2v1h-2zM253 610h2v1h-2zM255 611h7v1h-7zM262 612h3v1h-3zM265 611h2v1h-2zM267 610h3v1h-3zM270 611h2v1h-2zM272 612h1v2h-1zM273 614h1v1h-1zM274 615h1v2h-1zM275 616h1v2h-1zM276 614h1v2h-1zM277 612h1v2h-1zM278 610h1v2h-1zM279 608h5v1h-5zM279 609h1v1h-1zM284 609h1v1h-1zM285 610h1v2h-1zM286 612h1v1h-1zM287 613h1v1h-1zM288 614h1v2h-1zM289 616h1v2h-1zM290 618h1v2h-1zM291 620h2v1h-2zM293 621h2v1h-2zM295 622h1v1h-1zM296 623h1v1h-1zM297 624h1v1h-1zM298 625h2v1h-2zM299 624h1v1h-1zM299 626h1v1h-1zM300 620h1v4h-1zM301 616h1v4h-1zM302 612h1v4h-1zM303 610h1v2h-1zM304 609h2v1h-2zM306 608h1v1h-1zM307 607h1v1h-1zM308 608h2v1h-2zM310 609h1v1h-1zM311 610h3v1h-3zM314 611h3v1h-3zM317 610h2v1h-2zM319 609h7v1h-7zM326 608h4v1h-4zM330 609h2v1h-2zM332 610h2v1h-2zM334 611h1v1h-1zM335 612h1v1h-1zM336 613h2v1h-2zM338 614h1v1h-1zM339 615h1v1h-1zM340 614h1v1h-1zM341 613h1v1h-1zM342 612h1v1h-1zM343 611h2v1h-2zM345 610h2v1h-2zM347 609h3v1h-3zM350 610h6v1h-6zM356 609h1v1h-1zM357 608h1v1h-1zM358 607h1v1h-1zM359 606h2v1h-2zM361 607h2v1h-2zM363 608h1v1h-1zM364 609h2v1h-2zM366 610h1v1h-1zM367 611h11v1h-11zM378 612h2v1h-2zM380 613h1v1h-1zM381 614h1v1h-1zM382 615h1v1h-1zM383 616h3v1h-3zM386 617h2v1h-2zM388 618h2v1h-2zM390 619h1v1h-1zM391 620h1v1h-1zM392 619h2v1h-2zM394 618h1v1h-1zM395 617h3v1h-3zM398 616h2v1h-2zM400 615h2v1h-2zM402 614h1v1h-1zM403 613h5v1h-5zM408 614h2v1h-2zM410 615h2v1h-2zM411 616h1v1h-1zM412 613h1v2h-1zM413 610h1v3h-1zM414 608h1v2h-1zM415 606h3v1h-3zM415 607h1v1h-1zM418 607h2v1h-2zM420 608h1v2h-1zM421 610h1v1h-1zM422 611h1v2h-1zM423 613h7v1h-7zM430 612h2v1h-2zM432 613h1v2h-1zM433 615h1v1h-1zM434 616h1v2h-1zM435 618h1v1h-1zM436 619h1v1h-1zM437 620h1v2h-1zM438 622h1v1h-1zM439 623h1v1h-1zM440 624h2v1h-2zM442 625h1v1h-1zM443 626h2v1h-2zM445 627h2v1h-2zM447 628h7v1h-7zM454 629h3v1h-3zM457 630h2v1h-2zM459 631h3v1h-3zM462 632h4v1h-4zM466 633h4v1h-4zM470 634h2v1h-2zM472 632h1v2h-1zM473 631h1v1h-1zM474 629h1v2h-1zM475 627h1v2h-1zM476 624h1v3h-1zM477 622h1v2h-1zM478 619h1v3h-1zM479 617h1v2h-1zM480 618h2v1h-2zM482 619h1v1h-1zM483 620h1v1h-1zM484 621h1v2h-1zM485 623h1v2h-1zM486 625h1v2h-1zM487 626h1v2h-1zM488 624h1v2h-1zM489 622h1v2h-1zM490 620h1v2h-1zM491 619h1v1h-1zM492 618h1v1h-1zM493 616h1v2h-1zM494 615h1v1h-1zM495 614h5v1h-5zM500 613h2v1h-2zM502 612h1v1h-1zM503 611h3v1h-3zM506 610h2v1h-2zM508 611h1v1h-1zM509 612h1v2h-1zM510 614h1v1h-1zM511 615h3v1h-3zM514 616h10v1h-10zM524 617h2v1h-2zM526 618h1v1h-1zM527 619h1v1h-1zM528 620h2v1h-2zM530 621h2v1h-2zM531 622h1v1h-1zM532 618h1v3h-1zM533 614h1v4h-1zM534 611h1v3h-1zM535 609h1v2h-1zM536 610h2v1h-2zM538 611h1v1h-1zM539 612h1v1h-1zM540 610h1v2h-1zM541 609h1v1h-1zM542 607h1v2h-1zM543 606h6v1h-6zM549 607h2v1h-2zM551 608h2v1h-2zM553 609h2v1h-2zM555 610h7v1h-7zM562 611h2v1h-2zM564 612h1v1h-1zM565 613h1v1h-1zM566 614h1v1h-1zM567 615h2v1h-2zM569 614h2v1h-2zM571 613h1v1h-1zM572 614h1v1h-1zM573 615h1v1h-1zM574 616h2v1h-2zM575 617h1v1h-1zM576 614h1v2h-1zM577 612h1v2h-1zM578 610h1v2h-1zM579 608h1v2h-1zM580 607h1v1h-1zM581 606h1v1h-1zM582 605h1v1h-1zM583 604h5v1h-5zM588 603h1v1h-1zM589 601h1v2h-1zM590 600h1v1h-1zM591 599h1v1h-1zM592 600h2v1h-2zM594 601h1v1h-1zM595 602h1v1h-1zM596 601h1v1h-1zM597 600h1v1h-1zM598 599h1v1h-1zM599 598h3v1h-3zM602 597h2v1h-2zM604 598h1v1h-1zM605 599h1v2h-1zM606 601h1v1h-1zM607 602h1v1h-1zM608 603h1v2h-1zM609 605h1v1h-1zM610 606h1v2h-1zM611 608h2v1h-2zM613 607h2v1h-2zM615 606h6v1h-6zM621 607h2v1h-2zM623 608h2v1h-2zM625 607h2v1h-2zM627 606h3v1h-3zM630 607h2v1h-2zM632 606h2v1h-2zM634 605h1v1h-1zM635 604h7v1h-7zM642 603h2v1h-2zM643 602h1v1h-1zM644 600h1v2h-1zM645 598h1v2h-1zM646 596h1v2h-1zM647 595h1v1h-1zM648 594h1v1h-1zM649 592h1v2h-1zM650 591h1v1h-1zM651 590h1v1h-1zM652 589h2v1h-2zM654 588h1v1h-1zM655 587h2v1h-2zM657 586h2v1h-2zM659 585h1v1h-1zM660 584h2v1h-2zM662 583h1v1h-1zM663 582h3v1h-3zM666 583h2v1h-2zM667 584h1v1h-1zM668 585h1v2h-1zM669 587h1v2h-1zM670 589h1v2h-1zM671 591h1v1h-1zM672 592h1v1h-1zM673 593h1v2h-1zM674 595h1v1h-1zM675 596h1v1h-1zM676 597h1v1h-1zM677 598h1v1h-1zM678 599h1v1h-1zM679 600h3v1h-3zM682 601h2v1h-2zM684 600h2v1h-2zM686 599h1v1h-1zM687 598h5v1h-5zM692 599h1v2h-1zM693 601h1v2h-1zM694 603h1v2h-1zM695 605h6v1h-6zM701 604h2v1h-2zM703 603h3v1h-3zM706 602h2v1h-2zM707 603h1v1h-1zM708 604h1v2h-1zM709 606h1v3h-1zM710 609h1v2h-1zM711 611h1v2h-1zM712 612h8v1h-8zM719 611h1v1h-1zM720 609h1v2h-1zM721 607h1v2h-1zM722 605h1v2h-1zM723 604h2v1h-2zM725 605h2v1h-2zM727 606h2v1h-2zM729 605h2v1h-2zM731 604h3v1h-3zM734 603h6v1h-6zM739 604h1v1h-1zM740 605h1v2h-1zM741 607h1v2h-1zM742 609h1v2h-1zM743 611h1v1h-1zM744 612h2v1h-2zM746 613h1v1h-1zM747 614h1v1h-1zM748 615h2v1h-2zM750 616h1v1h-1zM751 617h1v1h-1zM752 615h1v2h-1zM753 614h1v1h-1zM754 612h1v2h-1zM755 611h2v1h-2zM757 612h2v1h-2zM759 613h3v1h-3zM762 614h2v1h-2zM764 613h1v1h-1zM765 611h1v2h-1zM766 610h1v1h-1zM767 609h3v1h-3zM770 610h2v1h-2zM772 609h1v1h-1zM773 607h1v2h-1zM774 606h1v1h-1zM775 604h1v2h-1zM776 602h1v2h-1zM777 599h1v3h-1zM778 597h1v2h-1zM779 595h9v1h-9zM779 596h1v1h-1zM788 594h2v1h-2zM790 593h2v1h-2zM791 592h1v1h-1zM792 594h1v3h-1zM793 597h1v2h-1zM794 599h1v3h-1zM795 602h1v2h-1zM796 603h2v1h-2zM798 604h2v1h-2zM800 605h1v2h-1zM801 607h1v2h-1zM802 609h1v2h-1zM803 611h1v1h-1zM804 612h1v2h-1zM805 614h1v1h-1zM806 615h1v2h-1zM807 617h5v1h-5zM811 616h1v1h-1zM812 612h1v4h-1zM813 608h1v4h-1zM814 604h1v4h-1zM815 602h2v1h-2zM815 603h1v1h-1zM817 601h2v1h-2zM819 600h1v1h-1zM820 599h1v1h-1zM821 597h1v2h-1zM822 596h1v1h-1zM823 595h1v1h-1zM824 596h1v1h-1zM825 597h1v2h-1zM826 599h1v1h-1zM827 600h7v1h-7zM834 601h7v1h-7zM841 602h2v1h-2zM843 603h2v1h-2zM845 604h2v1h-2zM847 605h1v1h-1zM848 604h2v1h-2zM850 603h1v1h-1zM851 602h3v1h-3zM854 603h4v1h-4zM858 602h3v1h-3zM861 601h2v1h-2zM863 600h3v1h-3zM866 601h2v1h-2zM868 602h1v1h-1zM869 603h1v2h-1zM870 605h1v1h-1zM871 606h1v1h-1zM872 607h2v1h-2zM874 608h1v1h-1zM875 609h2v1h-2zM877 610h2v1h-2zM879 611h3v1h-3zM882 612h4v1h-4zM886 611h2v1h-2zM888 612h1v1h-1zM889 613h1v2h-1zM890 615h1v1h-1zM891 616h1v1h-1zM892 617h1v1h-1zM893 618h1v2h-1zM894 620h1v1h-1zM895 621h1v1h-1zM896 622h1v1h-1zM897 623h1v1h-1zM898 624h1v1h-1zM899 625h11v1h-11zM910 626h6v1h-6zM916 625h2v1h-2zM918 624h1v1h-1zM919 623h2v1h-2zM921 624h2v1h-2zM923 625h1v1h-1zM924 623h1v2h-1zM925 621h1v2h-1zM926 619h1v2h-1zM927 618h3v1h-3zM930 619h4v1h-4zM934 620h3v1h-3zM937 621h2v1h-2zM939 622h2v1h-2zM941 623h2v1h-2zM943 624h6v1h-6zM949 623h2v1h-2zM951 622h3v1h-3zM954 623h2v1h-2zM955 622h1v1h-1zM956 620h1v2h-1zM957 618h1v2h-1zM958 616h1v2h-1zM959 614h1v2h-1zM960 613h2v1h-2zM962 612h1v1h-1zM963 611h3v1h-3zM966 610h2v1h-2zM968 609h2v1h-2zM970 608h1v1h-1zM971 607h3v1h-3zM974 606h2v1h-2zM976 607h2v1h-2zM978 608h1v1h-1zM979 609h1v1h-1zM980 610h1v2h-1zM981 612h1v2h-1zM982 614h1v2h-1zM983 616h2v1h-2zM985 617h2v1h-2zM987 618h2v1h-2zM989 617h2v1h-2zM991 616h2v1h-2zM993 615h2v1h-2zM995 614h1v1h-1zM996 615h1v2h-1zM997 617h1v1h-1zM998 618h1v2h-1zM999 620h5v1h-5zM1004 619h1v1h-1zM1005 618h1v1h-1zM1006 617h1v1h-1zM1007 615h1v2h-1zM1008 613h1v2h-1zM1009 611h1v2h-1zM1010 609h1v2h-1zM1011 607h1v2h-1zM1012 608h1v1h-1zM1013 609h1v1h-1zM1014 610h1v1h-1zM1015 611h1v1h-1zM1016 609h1v2h-1zM1017 607h1v2h-1zM1018 605h1v2h-1zM1019 604h1v1h-1zM1020 602h1v2h-1zM1021 600h1v2h-1zM1022 598h1v2h-1zM1023 597h1v1h-1zM1024 598h1v1h-1zM1025 599h1v1h-1zM1026 600h1v1h-1zM1027 601h2v1h-2zM1029 602h2v1h-2zM1031 603h2v1h-2zM1033 602h2v1h-2zM1035 601h2v1h-2zM1037 600h2v1h-2zM1039 599h3v1h-3zM1042 598h4v1h-4zM1046 599h2v1h-2zM1048 600h1v1h-1zM1049 601h1v1h-1zM1050 602h1v1h-1zM1051 603h1v1h-1zM1052 602h2v1h-2zM1054 601h1v1h-1zM1055 600h1v1h-1zM1056 601h1v2h-1zM1057 603h1v1h-1zM1058 604h1v2h-1zM1059 606h2v1h-2zM1061 607h2v1h-2zM1063 608h2v1h-2zM1065 607h2v1h-2zM1067 606h1v1h-1zM1068 605h1v1h-1zM1069 604h1v1h-1zM1070 603h1v1h-1zM1071 602h2v1h-2zM1073 603h2v1h-2zM1075 604h1v1h-1zM1076 603h1v1h-1zM1077 602h1v1h-1zM1078 601h1v1h-1zM1079 600h2v1h-2zM1081 601h2v1h-2zM1083 602h2v1h-2zM1085 601h2v1h-2zM1087 600h2v1h-2zM1089 599h2v1h-2zM1091 597h1v2h-1zM1092 595h1v2h-1zM1093 593h1v2h-1zM1094 591h1v2h-1zM1095 590h1v1h-1zM1096 589h2v1h-2zM1098 588h1v1h-1zM1099 587h3v1h-3zM1102 586h2v1h-2zM1104 585h1v1h-1zM1105 584h1v1h-1zM1106 583h1v1h-1zM1107 582h1v1h-1zM1108 583h1v2h-1zM1109 585h1v2h-1zM1110 587h1v2h-1zM1111 589h3v1h-3zM1114 590h4v1h-4zM1118 591h2v1h-2zM1119 592h1v1h-1zM1120 593h1v3h-1zM1121 596h1v2h-1zM1122 598h1v3h-1zM1123 601h1v2h-1zM1124 603h1v1h-1zM1125 604h1v1h-1zM1126 605h1v1h-1zM1127 606h6v1h-6zM1133 605h2v1h-2zM1135 604h5v1h-5zM1140 605h2v1h-2zM1142 606h1v1h-1zM1143 607h2v1h-2zM1145 606h2v1h-2zM1147 604h1v2h-1zM1148 601h1v3h-1zM1149 599h1v2h-1zM1150 596h1v3h-1zM1151 594h3v1h-3zM1151 595h1v1h-1zM1154 595h2v1h-2zM1156 596h1v1h-1zM1157 597h1v1h-1zM1158 598h1v1h-1zM1159 599h2v1h-2zM1161 598h2v1h-2zM1163 597h5v1h-5zM1168 595h1v2h-1zM1169 594h1v1h-1zM1170 592h1v2h-1zM1171 590h1v2h-1zM1172 588h1v2h-1zM1173 586h1v2h-1zM1174 584h2v1h-2zM1174 585h1v1h-1zM1175 583h1v1h-1zM1176 585h1v2h-1zM1177 587h1v3h-1zM1178 590h1v2h-1zM1179 592h1v2h-1zM1180 593h1v1h-1zM1181 592h2v1h-2zM1183 591h1v1h-1zM1184 590h1v1h-1zM1185 589h1v1h-1zM1186 588h1v1h-1zM1187 587h1v1h-1zM1188 586h2v1h-2zM1190 585h1v1h-1zM1191 584h3v1h-3zM1194 583h3v1h-3zM1197 582h2v1h-2zM1199 581h1v1h-1zM1200 580h1v1h-1zM1201 579h1v1h-1zM1202 578h1v1h-1zM1203 577h1v1h-1zM1204 576h2v1h-2zM1206 575h1v1h-1zM1207 574h3v1h-3zM1210 575h3v1h-3zM1213 574h3v1h-3zM1215 573h1v1h-1zM1216 575h1v2h-1zM1217 577h1v2h-1zM1218 579h1v2h-1zM1219 581h5v1h-5zM1223 582h1v1h-1zM1224 583h1v2h-1zM1225 585h1v2h-1zM1226 587h1v2h-1zM1227 589h1v1h-1zM1228 588h2v1h-2zM1230 587h1v1h-1zM1231 586h6v1h-6zM1237 587h2v1h-2zM1239 588h1v1h-1zM1240 589h2v1h-2zM1242 590h1v1h-1zM1243 591h3v1h-3zM1246 590h4v1h-4zM1250 589h6v1h-6z"/>
<text x="1583" y="564.9" font-size="10.1" fill="#000" stroke="#000" stroke-width="0.3" textLength="15.4" lengthAdjust="spacingAndGlyphs">100</text>
<text x="1583" y="587.9" font-size="10.1" fill="#000" stroke="#000" stroke-width="0.3" textLength="10.3" lengthAdjust="spacingAndGlyphs">70</text>
<text x="1583" y="624.9" font-size="10.1" fill="#000" stroke="#000" stroke-width="0.3" textLength="10.3" lengthAdjust="spacingAndGlyphs">30</text>
<text x="1583" y="647.1" font-size="10.1" fill="#000" stroke="#000" stroke-width="0.3" textLength="5.1" lengthAdjust="spacingAndGlyphs">0</text>
<g shape-rendering="crispEdges">
<path fill="#c0c0c0" d="M3 703h1v25h-1zM7 703h1v16h-1zM11 703h1v4h-1zM15 697h1v7h-1zM19 688h1v16h-1zM23 684h1v20h-1zM27 682h1v22h-1zM31 681h1v23h-1zM35 686h1v18h-1zM39 693h1v11h-1zM43 699h1v5h-1zM47 702h1v2h-1zM51 703h1v1h-1zM55 702h1v2h-1zM59 700h1v4h-1zM63 696h1v8h-1zM67 694h1v10h-1zM71 692h1v12h-1zM75 693h1v11h-1zM79 694h1v10h-1zM83 696h1v8h-1zM87 698h1v6h-1zM91 700h1v4h-1zM95 701h1v3h-1zM99 703h1v2h-1zM103 703h1v3h-1zM107 703h1v2h-1zM111 703h1v2h-1zM115 703h1v2h-1zM119 703h1v2h-1zM123 703h1v1h-1zM127 702h1v2h-1zM131 700h1v4h-1zM135 698h1v6h-1zM139 696h1v8h-1zM143 695h1v9h-1zM147 694h1v10h-1zM151 694h1v10h-1zM155 696h1v8h-1zM159 701h1v3h-1zM163 703h1v2h-1zM167 703h1v3h-1zM171 703h1v2h-1zM175 701h1v3h-1zM179 700h1v4h-1zM183 700h1v4h-1zM187 700h1v4h-1zM191 700h1v4h-1zM195 701h1v3h-1zM199 701h1v3h-1zM203 700h1v4h-1zM207 700h1v4h-1zM211 700h1v4h-1zM215 700h1v4h-1zM219 700h1v4h-1zM223 702h1v2h-1zM227 702h1v2h-1zM231 702h1v2h-1zM235 701h1v3h-1zM239 701h1v3h-1zM243 703h1v1h-1zM247 703h1v1h-1zM251 703h1v3h-1zM255 703h1v6h-1zM259 703h1v7h-1zM263 703h1v9h-1zM267 703h1v10h-1zM271 703h1v11h-1zM275 703h1v13h-1zM279 703h1v13h-1zM283 703h1v12h-1zM287 703h1v14h-1zM291 703h1v18h-1zM295 703h1v22h-1zM299 703h1v27h-1zM303 703h1v27h-1zM307 703h1v25h-1zM311 703h1v24h-1zM315 703h1v24h-1zM319 703h1v23h-1zM323 703h1v22h-1zM327 703h1v21h-1zM331 703h1v20h-1zM335 703h1v20h-1zM339 703h1v21h-1zM343 703h1v21h-1zM347 703h1v20h-1zM351 703h1v19h-1zM355 703h1v18h-1zM359 703h1v17h-1zM363 703h1v16h-1zM367 703h1v16h-1zM371 703h1v16h-1zM375 703h1v16h-1zM379 703h1v16h-1zM383 703h1v17h-1zM387 703h1v17h-1zM391 703h1v19h-1zM395 703h1v19h-1zM399 703h1v19h-1zM403 703h1v19h-1zM407 703h1v18h-1zM411 703h1v18h-1zM415 703h1v16h-1zM419 703h1v15h-1zM423 703h1v15h-1zM427 703h1v15h-1zM431 703h1v15h-1zM435 703h1v16h-1zM439 703h1v19h-1zM443 703h1v23h-1zM447 703h1v26h-1zM451 703h1v28h-1zM455 703h1v31h-1zM459 703h1v33h-1zM463 703h1v36h-1zM467 703h1v38h-1zM471 703h1v40h-1zM475 703h1v40h-1zM479 703h1v38h-1zM483 703h1v37h-1zM487 703h1v40h-1zM491 703h1v39h-1zM495 703h1v37h-1zM499 703h1v36h-1zM503 703h1v33h-1zM507 703h1v30h-1zM511 703h1v30h-1zM515 703h1v30h-1zM519 703h1v29h-1zM523 703h1v29h-1zM527 703h1v29h-1zM531 703h1v30h-1zM535 703h1v28h-1zM539 703h1v26h-1zM543 703h1v23h-1zM547 703h1v21h-1zM551 703h1v20h-1zM555 703h1v19h-1zM559 703h1v18h-1zM563 703h1v18h-1zM567 703h1v19h-1zM571 703h1v19h-1zM575 703h1v20h-1zM579 703h1v19h-1zM583 703h1v16h-1zM587 703h1v14h-1zM591 703h1v11h-1zM595 703h1v9h-1zM599 703h1v6h-1zM603 703h1v4h-1zM607 703h1v3h-1zM611 703h1v4h-1zM615 703h1v5h-1zM619 703h1v5h-1zM623 703h1v6h-1zM627 703h1v6h-1zM631 703h1v6h-1zM635 703h1v6h-1zM639 703h1v5h-1zM643 703h1v5h-1zM647 703h1v2h-1zM651 701h1v3h-1zM655 697h1v7h-1zM659 693h1v11h-1zM663 689h1v15h-1zM667 686h1v18h-1zM671 685h1v19h-1zM675 686h1v18h-1zM679 688h1v16h-1zM683 690h1v14h-1zM687 691h1v13h-1zM691 692h1v12h-1zM695 694h1v10h-1zM699 696h1v8h-1zM703 697h1v7h-1zM707 698h1v6h-1zM711 701h1v3h-1zM715 703h1v2h-1zM719 703h1v4h-1zM723 703h1v4h-1zM727 703h1v5h-1zM731 703h1v4h-1zM735 703h1v4h-1zM739 703h1v3h-1zM743 703h1v5h-1zM747 703h1v7h-1zM751 703h1v10h-1zM755 703h1v11h-1zM759 703h1v12h-1zM763 703h1v13h-1zM767 703h1v13h-1zM771 703h1v13h-1zM775 703h1v12h-1zM779 703h1v8h-1zM783 703h1v5h-1zM787 703h1v2h-1zM791 702h1v2h-1zM795 702h1v2h-1zM799 702h1v2h-1zM803 703h1v3h-1zM807 703h1v7h-1zM811 703h1v10h-1zM815 703h1v9h-1zM819 703h1v7h-1zM823 703h1v3h-1zM827 703h1v2h-1zM831 703h1v1h-1zM835 702h1v2h-1zM839 702h1v2h-1zM843 702h1v2h-1zM847 703h1v1h-1zM851 703h1v1h-1zM855 703h1v1h-1zM859 703h1v1h-1zM863 702h1v2h-1zM867 702h1v2h-1zM871 703h1v1h-1zM875 703h1v3h-1zM879 703h1v5h-1zM883 703h1v6h-1zM887 703h1v7h-1zM891 703h1v10h-1zM895 703h1v13h-1zM899 703h1v17h-1zM903 703h1v21h-1zM907 703h1v23h-1zM911 703h1v25h-1zM915 703h1v27h-1zM919 703h1v27h-1zM923 703h1v28h-1zM927 703h1v28h-1zM931 703h1v27h-1zM935 703h1v27h-1zM939 703h1v27h-1zM943 703h1v28h-1zM947 703h1v28h-1zM951 703h1v27h-1zM955 703h1v27h-1zM959 703h1v26h-1zM963 703h1v23h-1zM967 703h1v21h-1zM971 703h1v19h-1zM975 703h1v17h-1zM979 703h1v15h-1zM983 703h1v16h-1zM987 703h1v17h-1zM991 703h1v17h-1zM995 703h1v17h-1zM999 703h1v18h-1zM1003 703h1v19h-1zM1007 703h1v19h-1zM1011 703h1v17h-1zM1015 703h1v16h-1zM1019 703h1v14h-1zM1023 703h1v11h-1zM1027 703h1v9h-1zM1031 703h1v8h-1zM1035 703h1v6h-1zM1039 703h1v5h-1zM1043 703h1v3h-1zM1047 703h1v2h-1zM1051 703h1v2h-1zM1055 703h1v1h-1zM1059 703h1v2h-1zM1063 703h1v3h-1zM1067 703h1v3h-1zM1071 703h1v3h-1zM1075 703h1v3h-1zM1079 703h1v2h-1zM1083 703h1v2h-1zM1087 703h1v1h-1zM1091 702h1v2h-1zM1095 700h1v4h-1zM1099 697h1v7h-1zM1103 694h1v10h-1zM1107 691h1v13h-1zM1111 690h1v14h-1zM1115 689h1v15h-1zM1119 689h1v15h-1zM1123 691h1v13h-1zM1127 694h1v10h-1zM1131 696h1v8h-1zM1135 697h1v7h-1zM1139 699h1v5h-1zM1143 700h1v4h-1zM1147 701h1v3h-1zM1151 699h1v5h-1zM1155 698h1v6h-1zM1159 698h1v6h-1zM1163 697h1v7h-1zM1167 697h1v7h-1zM1171 695h1v9h-1zM1175 691h1v13h-1zM1179 690h1v14h-1zM1183 689h1v15h-1zM1187 686h1v18h-1zM1191 683h1v21h-1zM1195 680h1v24h-1zM1199 678h1v26h-1zM1203 673h1v31h-1zM1207 667h1v37h-1zM1211 663h1v41h-1zM1215 659h1v45h-1zM1219 658h1v46h-1zM1223 658h1v46h-1zM1227 660h1v44h-1zM1231 661h1v43h-1zM1235 662h1v42h-1zM1239 663h1v41h-1zM1243 666h1v38h-1zM1247 668h1v36h-1zM1251 670h1v34h-1zM1255 671h1v33h-1z"/>
<rect x="1580" y="703" width="1" height="1" fill="#000"/>
<rect x="1580" y="747" width="1" height="1" fill="#000"/>
<rect x="1580" y="654" width="1" height="1" fill="#000"/>
<rect x="1580" y="649" width="1" height="1" fill="#000"/>
</g>
<path fill="#ff0000" shape-rendering="crispEdges" d="M3 743h1v1h-1zM4 742h2v1h-2zM9 737h1v2h-1zM10 736h1v1h-1zM13 732h1v1h-1zM14 730h1v2h-1zM17 725h1v2h-1zM18 724h1v1h-1zM20 720h1v1h-1zM21 718h1v2h-1zM24 713h1v2h-1zM25 712h1v1h-1zM27 708h1v1h-1zM28 706h1v2h-1zM31 702h1v1h-1zM32 701h1v1h-1zM33 700h1v1h-1zM36 696h1v1h-1zM37 695h1v1h-1zM38 694h1v1h-1zM42 692h1v1h-1zM43 691h2v1h-2zM48 691h3v1h-3zM54 692h1v1h-1zM55 693h2v1h-2zM60 695h2v1h-2zM62 696h1v1h-1zM66 697h1v1h-1zM67 698h2v1h-2zM72 698h3v1h-3zM78 698h3v1h-3zM84 697h3v1h-3zM90 696h3v1h-3zM96 696h2v1h-2zM98 697h1v1h-1zM102 698h3v1h-3zM108 700h2v1h-2zM110 701h1v1h-1zM114 702h3v1h-3zM120 703h3v1h-3zM126 704h3v1h-3zM132 704h2v1h-2zM134 703h1v1h-1zM138 702h3v1h-3zM144 701h2v1h-2zM146 700h1v1h-1zM150 699h3v1h-3zM156 698h3v1h-3zM162 698h3v1h-3zM168 699h3v1h-3zM174 700h3v1h-3zM180 700h2v1h-2zM182 701h1v1h-1zM186 702h3v1h-3zM192 702h3v1h-3zM198 702h3v1h-3zM204 701h3v1h-3zM210 701h3v1h-3zM216 701h3v1h-3zM222 701h3v1h-3zM228 701h3v1h-3zM234 701h3v1h-3zM240 701h2v1h-2zM242 702h1v1h-1zM246 702h3v1h-3zM252 703h3v1h-3zM258 704h3v1h-3zM264 705h2v1h-2zM266 706h1v1h-1zM270 707h1v1h-1zM271 708h2v1h-2zM276 709h1v1h-1zM277 710h2v1h-2zM282 712h3v1h-3zM288 713h2v1h-2zM290 714h1v1h-1zM294 715h1v1h-1zM295 716h2v1h-2zM300 718h1v1h-1zM301 719h2v1h-2zM306 721h3v1h-3zM312 723h2v1h-2zM314 724h1v1h-1zM318 725h3v1h-3zM324 726h3v1h-3zM330 726h3v1h-3zM336 725h3v1h-3zM342 724h3v1h-3zM348 724h2v1h-2zM350 723h1v1h-1zM354 723h3v1h-3zM360 722h3v1h-3zM366 721h3v1h-3zM372 721h2v1h-2zM374 720h1v1h-1zM378 720h3v1h-3zM384 719h3v1h-3zM390 719h3v1h-3zM396 719h2v1h-2zM398 720h1v1h-1zM402 720h3v1h-3zM408 720h2v1h-2zM410 721h1v1h-1zM414 721h3v1h-3zM420 720h3v1h-3zM426 720h3v1h-3zM432 719h3v1h-3zM438 719h3v1h-3zM444 719h2v1h-2zM446 720h1v1h-1zM450 721h1v1h-1zM451 722h2v1h-2zM456 723h1v1h-1zM457 724h2v1h-2zM462 727h1v1h-1zM463 728h2v1h-2zM468 731h2v1h-2zM470 732h1v1h-1zM474 734h1v1h-1zM475 735h2v1h-2zM480 737h2v1h-2zM482 738h1v1h-1zM486 739h3v1h-3zM492 740h2v1h-2zM494 741h1v1h-1zM498 741h3v1h-3zM504 740h2v1h-2zM506 739h1v1h-1zM510 738h3v1h-3zM516 737h2v1h-2zM518 736h1v1h-1zM522 735h3v1h-3zM528 734h2v1h-2zM530 733h1v1h-1zM534 732h3v1h-3zM540 732h2v1h-2zM542 731h1v1h-1zM546 730h3v1h-3zM552 729h2v1h-2zM554 728h1v1h-1zM558 727h1v1h-1zM559 726h2v1h-2zM564 725h2v1h-2zM566 724h1v1h-1zM570 723h3v1h-3zM576 722h3v1h-3zM582 721h3v1h-3zM588 721h2v1h-2zM590 720h1v1h-1zM594 719h3v1h-3zM600 717h2v1h-2zM602 716h1v1h-1zM606 715h1v1h-1zM607 714h2v1h-2zM612 712h1v1h-1zM613 711h2v1h-2zM618 709h3v1h-3zM624 708h3v1h-3zM630 707h3v1h-3zM636 707h2v1h-2zM638 708h1v1h-1zM642 708h3v1h-3zM648 708h2v1h-2zM650 707h1v1h-1zM654 706h3v1h-3zM660 704h1v1h-1zM661 703h2v1h-2zM666 701h1v1h-1zM667 700h1v1h-1zM668 699h1v1h-1zM672 697h1v1h-1zM673 696h2v1h-2zM678 694h1v1h-1zM679 693h2v1h-2zM684 691h2v1h-2zM686 690h1v1h-1zM690 689h3v1h-3zM696 690h3v1h-3zM702 691h1v1h-1zM703 692h2v1h-2zM708 693h1v1h-1zM709 694h2v1h-2zM714 696h3v1h-3zM720 698h1v1h-1zM721 699h2v1h-2zM726 701h1v1h-1zM727 702h2v1h-2zM732 703h2v1h-2zM734 704h1v1h-1zM738 705h3v1h-3zM744 706h2v1h-2zM746 707h1v1h-1zM750 708h3v1h-3zM756 708h2v1h-2zM758 709h1v1h-1zM762 710h3v1h-3zM768 711h2v1h-2zM770 712h1v1h-1zM774 713h3v1h-3zM780 713h3v1h-3zM786 712h3v1h-3zM792 711h2v1h-2zM794 710h1v1h-1zM798 709h1v1h-1zM799 708h2v1h-2zM804 707h3v1h-3zM810 706h3v1h-3zM816 707h3v1h-3zM822 707h3v1h-3zM828 707h3v1h-3zM834 707h3v1h-3zM840 707h2v1h-2zM842 706h1v1h-1zM846 705h3v1h-3zM852 704h3v1h-3zM858 703h3v1h-3zM864 703h3v1h-3zM870 703h3v1h-3zM876 703h2v1h-2zM878 704h1v1h-1zM882 704h3v1h-3zM888 705h2v1h-2zM890 706h1v1h-1zM894 707h3v1h-3zM900 710h2v1h-2zM902 711h1v1h-1zM906 713h1v1h-1zM907 714h1v1h-1zM908 715h1v1h-1zM912 717h1v1h-1zM913 718h2v1h-2zM918 720h1v1h-1zM919 721h1v1h-1zM920 722h1v1h-1zM924 724h1v1h-1zM925 725h2v1h-2zM930 727h3v1h-3zM936 728h2v1h-2zM938 729h1v1h-1zM942 730h3v1h-3zM948 730h3v1h-3zM954 730h3v1h-3zM960 730h2v1h-2zM962 729h1v1h-1zM966 729h3v1h-3zM972 728h2v1h-2zM974 727h1v1h-1zM978 726h1v1h-1zM979 725h2v1h-2zM984 724h2v1h-2zM986 723h1v1h-1zM990 722h3v1h-3zM996 721h2v1h-2zM998 720h1v1h-1zM1002 720h3v1h-3zM1008 720h3v1h-3zM1014 720h3v1h-3zM1020 720h2v1h-2zM1022 719h1v1h-1zM1026 718h3v1h-3zM1032 717h2v1h-2zM1034 716h1v1h-1zM1038 715h1v1h-1zM1039 714h2v1h-2zM1044 712h2v1h-2zM1046 711h1v1h-1zM1050 710h1v1h-1zM1051 709h2v1h-2zM1056 708h2v1h-2zM1058 707h1v1h-1zM1062 706h3v1h-3zM1068 705h3v1h-3zM1074 705h3v1h-3zM1080 705h3v1h-3zM1086 705h3v1h-3zM1092 705h2v1h-2zM1094 704h1v1h-1zM1098 703h3v1h-3zM1104 702h1v1h-1zM1105 701h2v1h-2zM1110 699h3v1h-3zM1116 697h1v1h-1zM1117 696h2v1h-2zM1122 694h3v1h-3zM1128 693h3v1h-3zM1134 693h3v1h-3zM1140 693h2v1h-2zM1142 694h1v1h-1zM1146 695h1v1h-1zM1147 696h2v1h-2zM1152 697h2v1h-2zM1154 698h1v1h-1zM1158 699h3v1h-3zM1164 699h3v1h-3zM1170 699h3v1h-3zM1176 698h2v1h-2zM1178 697h1v1h-1zM1182 696h3v1h-3zM1188 694h1v1h-1zM1189 693h2v1h-2zM1194 691h2v1h-2zM1196 690h1v1h-1zM1200 688h1v1h-1zM1201 687h2v1h-2zM1206 684h1v1h-1zM1207 683h1v1h-1zM1208 682h1v1h-1zM1212 678h2v1h-2zM1214 677h1v1h-1zM1218 674h1v1h-1zM1219 673h1v1h-1zM1220 672h1v1h-1zM1224 669h1v1h-1zM1225 668h2v1h-2zM1230 666h1v1h-1zM1231 665h2v1h-2zM1236 663h2v1h-2zM1238 662h1v1h-1zM1242 662h3v1h-3zM1248 662h2v1h-2zM1250 663h1v1h-1zM1254 664h1v1h-1zM1255 665h1v1h-1z"/>
<text x="1583" y="663.3" font-size="10.1" fill="#000" stroke="#000" stroke-width="0.3" textLength="38.5" lengthAdjust="spacingAndGlyphs">0.010933</text>
<text x="1583.5" y="706.8" font-size="10.1" fill="#000" stroke="#000" stroke-width="0.3" textLength="17" lengthAdjust="spacingAndGlyphs">0.00</text>
<text x="1583.5" y="745.2" font-size="10.1" fill="#000" stroke="#000" stroke-width="0.3" textLength="42" lengthAdjust="spacingAndGlyphs">-0.009653</text>
<g shape-rendering="crispEdges">
<rect x="3" y="749" width="1" height="3" fill="#000"/>
<rect x="67" y="749" width="1" height="3" fill="#000"/>
<rect x="131" y="749" width="1" height="3" fill="#000"/>
<rect x="195" y="749" width="1" height="3" fill="#000"/>
<rect x="259" y="749" width="1" height="3" fill="#000"/>
<rect x="323" y="749" width="1" height="3" fill="#000"/>
<rect x="387" y="749" width="1" height="3" fill="#000"/>
<rect x="451" y="749" width="1" height="3" fill="#000"/>
<rect x="515" y="749" width="1" height="3" fill="#000"/>
<rect x="579" y="749" width="1" height="3" fill="#000"/>
<rect x="643" y="749" width="1" height="3" fill="#000"/>
<rect x="707" y="749" width="1" height="3" fill="#000"/>
<rect x="771" y="749" width="1" height="3" fill="#000"/>
<rect x="835" y="749" width="1" height="3" fill="#000"/>
<rect x="899" y="749" width="1" height="3" fill="#000"/>
<rect x="963" y="749" width="1" height="3" fill="#000"/>
<rect x="1027" y="749" width="1" height="3" fill="#000"/>
<rect x="1091" y="749" width="1" height="3" fill="#000"/>
<rect x="1155" y="749" width="1" height="3" fill="#000"/>
<rect x="1219" y="749" width="1" height="3" fill="#000"/>
</g>
<text x="2.6" y="760.6" font-size="10.1" fill="#000" stroke="#000" stroke-width="0.3" textLength="51.9" lengthAdjust="spacingAndGlyphs">17 Mar 2020</text>
<text x="66.6" y="760.6" font-size="10.1" fill="#000" stroke="#000" stroke-width="0.3" textLength="44.7" lengthAdjust="spacingAndGlyphs">4 Apr 2020</text>
<text x="130.6" y="760.6" font-size="10.1" fill="#000" stroke="#000" stroke-width="0.3" textLength="49.9" lengthAdjust="spacingAndGlyphs">23 Apr 2020</text>
<text x="194.6" y="760.6" font-size="10.1" fill="#000" stroke="#000" stroke-width="0.3" textLength="53.4" lengthAdjust="spacingAndGlyphs">12 May 2020</text>
<text x="258.6" y="760.6" font-size="10.1" fill="#000" stroke="#000" stroke-width="0.3" textLength="53.4" lengthAdjust="spacingAndGlyphs">30 May 2020</text>
<text x="322.6" y="760.6" font-size="10.1" fill="#000" stroke="#000" stroke-width="0.3" textLength="50.9" lengthAdjust="spacingAndGlyphs">18 Jun 2020</text>
<text x="386.6" y="760.6" font-size="10.1" fill="#000" stroke="#000" stroke-width="0.3" textLength="42.7" lengthAdjust="spacingAndGlyphs">7 Jul 2020</text>
<text x="450.6" y="760.6" font-size="10.1" fill="#000" stroke="#000" stroke-width="0.3" textLength="47.8" lengthAdjust="spacingAndGlyphs">25 Jul 2020</text>
<text x="514.6" y="760.6" font-size="10.1" fill="#000" stroke="#000" stroke-width="0.3" textLength="51.9" lengthAdjust="spacingAndGlyphs">13 Aug 2020</text>
<text x="578.6" y="760.6" font-size="10.1" fill="#000" stroke="#000" stroke-width="0.3" textLength="47.3" lengthAdjust="spacingAndGlyphs">1 Sep 2020</text>
<text x="642.6" y="760.6" font-size="10.1" fill="#000" stroke="#000" stroke-width="0.3" textLength="52.4" lengthAdjust="spacingAndGlyphs">19 Sep 2020</text>
<text x="706.6" y="760.6" font-size="10.1" fill="#000" stroke="#000" stroke-width="0.3" textLength="45.2" lengthAdjust="spacingAndGlyphs">8 Oct 2020</text>
<text x="770.6" y="760.6" font-size="10.1" fill="#000" stroke="#000" stroke-width="0.3" textLength="50.4" lengthAdjust="spacingAndGlyphs">27 Oct 2020</text>
<text x="834.6" y="760.6" font-size="10.1" fill="#000" stroke="#000" stroke-width="0.3" textLength="52.4" lengthAdjust="spacingAndGlyphs">14 Nov 2020</text>
<text x="898.6" y="760.6" font-size="10.1" fill="#000" stroke="#000" stroke-width="0.3" textLength="47.3" lengthAdjust="spacingAndGlyphs">3 Dec 2020</text>
<text x="962.6" y="760.6" font-size="10.1" fill="#000" stroke="#000" stroke-width="0.3" textLength="52.4" lengthAdjust="spacingAndGlyphs">22 Dec 2020</text>
<text x="1026.6" y="760.6" font-size="10.1" fill="#000" stroke="#000" stroke-width="0.3" textLength="50.9" lengthAdjust="spacingAndGlyphs">12 Jan 2021</text>
<text x="1090.6" y="760.6" font-size="10.1" fill="#000" stroke="#000" stroke-width="0.3" textLength="50.9" lengthAdjust="spacingAndGlyphs">30 Jan 2021</text>
<text x="1154.6" y="760.6" font-size="10.1" fill="#000" stroke="#000" stroke-width="0.3" textLength="51.9" lengthAdjust="spacingAndGlyphs">18 Feb 2021</text>
<text x="1218.6" y="760.6" font-size="10.1" fill="#000" stroke="#000" stroke-width="0.3" textLength="46.8" lengthAdjust="spacingAndGlyphs">9 Mar 2021</text>
<path d="M1257.6 26h9.6l-4.8 5.3z" fill="#c0c0c0"/>
<g shape-rendering="crispEdges">
<rect x="0" y="769" width="1624" height="1" fill="#e3e3e3"/>
<rect x="0" y="770" width="1624" height="1" fill="#ffffff"/>
<rect x="0" y="771" width="1624" height="19" fill="#f0f0f0"/>
<rect x="0" y="790" width="1624" height="4" fill="#f5f5f5"/>
<rect x="0" y="771" width="108" height="1" fill="#000"/>
<rect x="208" y="771" width="1416" height="1" fill="#000"/>
<rect x="108" y="771" width="100" height="19" fill="#fff"/>
<rect x="108" y="771" width="1" height="19" fill="#000"/>
<rect x="207" y="771" width="1" height="19" fill="#000"/>
<rect x="108" y="789" width="100" height="1" fill="#000"/>
<rect x="109" y="790" width="100" height="1" fill="#d0d0d0"/>
<rect x="312" y="774" width="1" height="14" fill="#808080"/>
<rect x="416" y="774" width="1" height="14" fill="#808080"/>
<rect x="520" y="774" width="1" height="14" fill="#808080"/>
<rect x="624" y="774" width="1" height="14" fill="#808080"/>
<rect x="716" y="774" width="1" height="14" fill="#808080"/>
<rect x="808" y="774" width="1" height="14" fill="#808080"/>
<rect x="880" y="774" width="1" height="14" fill="#808080"/>
<rect x="960" y="774" width="1" height="14" fill="#808080"/>
<rect x="1040" y="774" width="1" height="14" fill="#808080"/>
<rect x="1120" y="774" width="1" height="14" fill="#808080"/>
<rect x="1196" y="774" width="1" height="14" fill="#808080"/>
<rect x="1280" y="774" width="1" height="14" fill="#808080"/>
<rect x="1364" y="774" width="1" height="14" fill="#808080"/>
<rect x="1460" y="774" width="1" height="14" fill="#808080"/>
<rect x="1560" y="774" width="1" height="14" fill="#808080"/>
</g>
<text x="16" y="785.5" font-size="12.5" fill="#6d6d6d" stroke="#6d6d6d" stroke-width="0.15" textLength="80" lengthAdjust="spacingAndGlyphs">EURUSD,Daily</text>
<text x="118.5" y="785.5" font-size="12.5" fill="#000" stroke="#000" stroke-width="0.15" textLength="78.7" lengthAdjust="spacingAndGlyphs">USDCHF,Daily</text>
<text x="219" y="785.5" font-size="12.5" fill="#6d6d6d" stroke="#6d6d6d" stroke-width="0.15" textLength="82" lengthAdjust="spacingAndGlyphs">AUDUSD,Daily</text>
<text x="323" y="785.5" font-size="12.5" fill="#6d6d6d" stroke="#6d6d6d" stroke-width="0.15" textLength="81" lengthAdjust="spacingAndGlyphs">USDCAD,Daily</text>
<text x="426" y="785.5" font-size="12.5" fill="#6d6d6d" stroke="#6d6d6d" stroke-width="0.15" textLength="83" lengthAdjust="spacingAndGlyphs">USDCNH,Daily</text>
<text x="532" y="785.5" font-size="12.5" fill="#6d6d6d" stroke="#6d6d6d" stroke-width="0.15" textLength="80" lengthAdjust="spacingAndGlyphs">EURUSD,Daily</text>
<text x="636" y="785.5" font-size="12.5" fill="#6d6d6d" stroke="#6d6d6d" stroke-width="0.15" textLength="68" lengthAdjust="spacingAndGlyphs">GBPUSD,H4</text>
<text x="727" y="785.5" font-size="12.5" fill="#6d6d6d" stroke="#6d6d6d" stroke-width="0.15" textLength="69" lengthAdjust="spacingAndGlyphs">XAUUSD,H4</text>
<text x="819" y="785.5" font-size="12.5" fill="#6d6d6d" stroke="#6d6d6d" stroke-width="0.15" textLength="50" lengthAdjust="spacingAndGlyphs">HK50,H1</text>
<text x="891" y="785.5" font-size="12.5" fill="#6d6d6d" stroke="#6d6d6d" stroke-width="0.15" textLength="57" lengthAdjust="spacingAndGlyphs">UK100,H1</text>
<text x="971" y="785.5" font-size="12.5" fill="#6d6d6d" stroke="#6d6d6d" stroke-width="0.15" textLength="56.5" lengthAdjust="spacingAndGlyphs">UK100,H1</text>
<text x="1051" y="785.5" font-size="12.5" fill="#6d6d6d" stroke="#6d6d6d" stroke-width="0.15" textLength="57" lengthAdjust="spacingAndGlyphs">GER30,H1</text>
<text x="1130" y="785.5" font-size="12.5" fill="#6d6d6d" stroke="#6d6d6d" stroke-width="0.15" textLength="54.5" lengthAdjust="spacingAndGlyphs">FRA40,H1</text>
<text x="1207" y="785.5" font-size="12.5" fill="#6d6d6d" stroke="#6d6d6d" stroke-width="0.15" textLength="62" lengthAdjust="spacingAndGlyphs">USOil,Daily</text>
<text x="1290" y="785.5" font-size="12.5" fill="#6d6d6d" stroke="#6d6d6d" stroke-width="0.15" textLength="63" lengthAdjust="spacingAndGlyphs">USDJPY,H1</text>
<text x="1375" y="785.5" font-size="12.5" fill="#6d6d6d" stroke="#6d6d6d" stroke-width="0.15" textLength="73" lengthAdjust="spacingAndGlyphs">DJ30,Weekly</text>
<text x="1470" y="785.5" font-size="12.5" fill="#6d6d6d" stroke="#6d6d6d" stroke-width="0.15" textLength="78.5" lengthAdjust="spacingAndGlyphs">CHINA300,H1</text>
<clipPath id="c1"><rect x="1565" y="771" width="24" height="19"/></clipPath>
<text x="1570.3" y="785.5" font-size="12.5" fill="#6d6d6d" stroke="#6d6d6d" stroke-width="0.15" textLength="43.5" lengthAdjust="spacingAndGlyphs" clip-path="url(#c1)">USOil,H4</text>
<path d="M1598.6 777.3v6.4l-3.8-3.2z" fill="#a0a0a0"/>
<path d="M1613.7 776.8v7l4.1-3.5z" fill="#000"/>
</svg></body></html>
